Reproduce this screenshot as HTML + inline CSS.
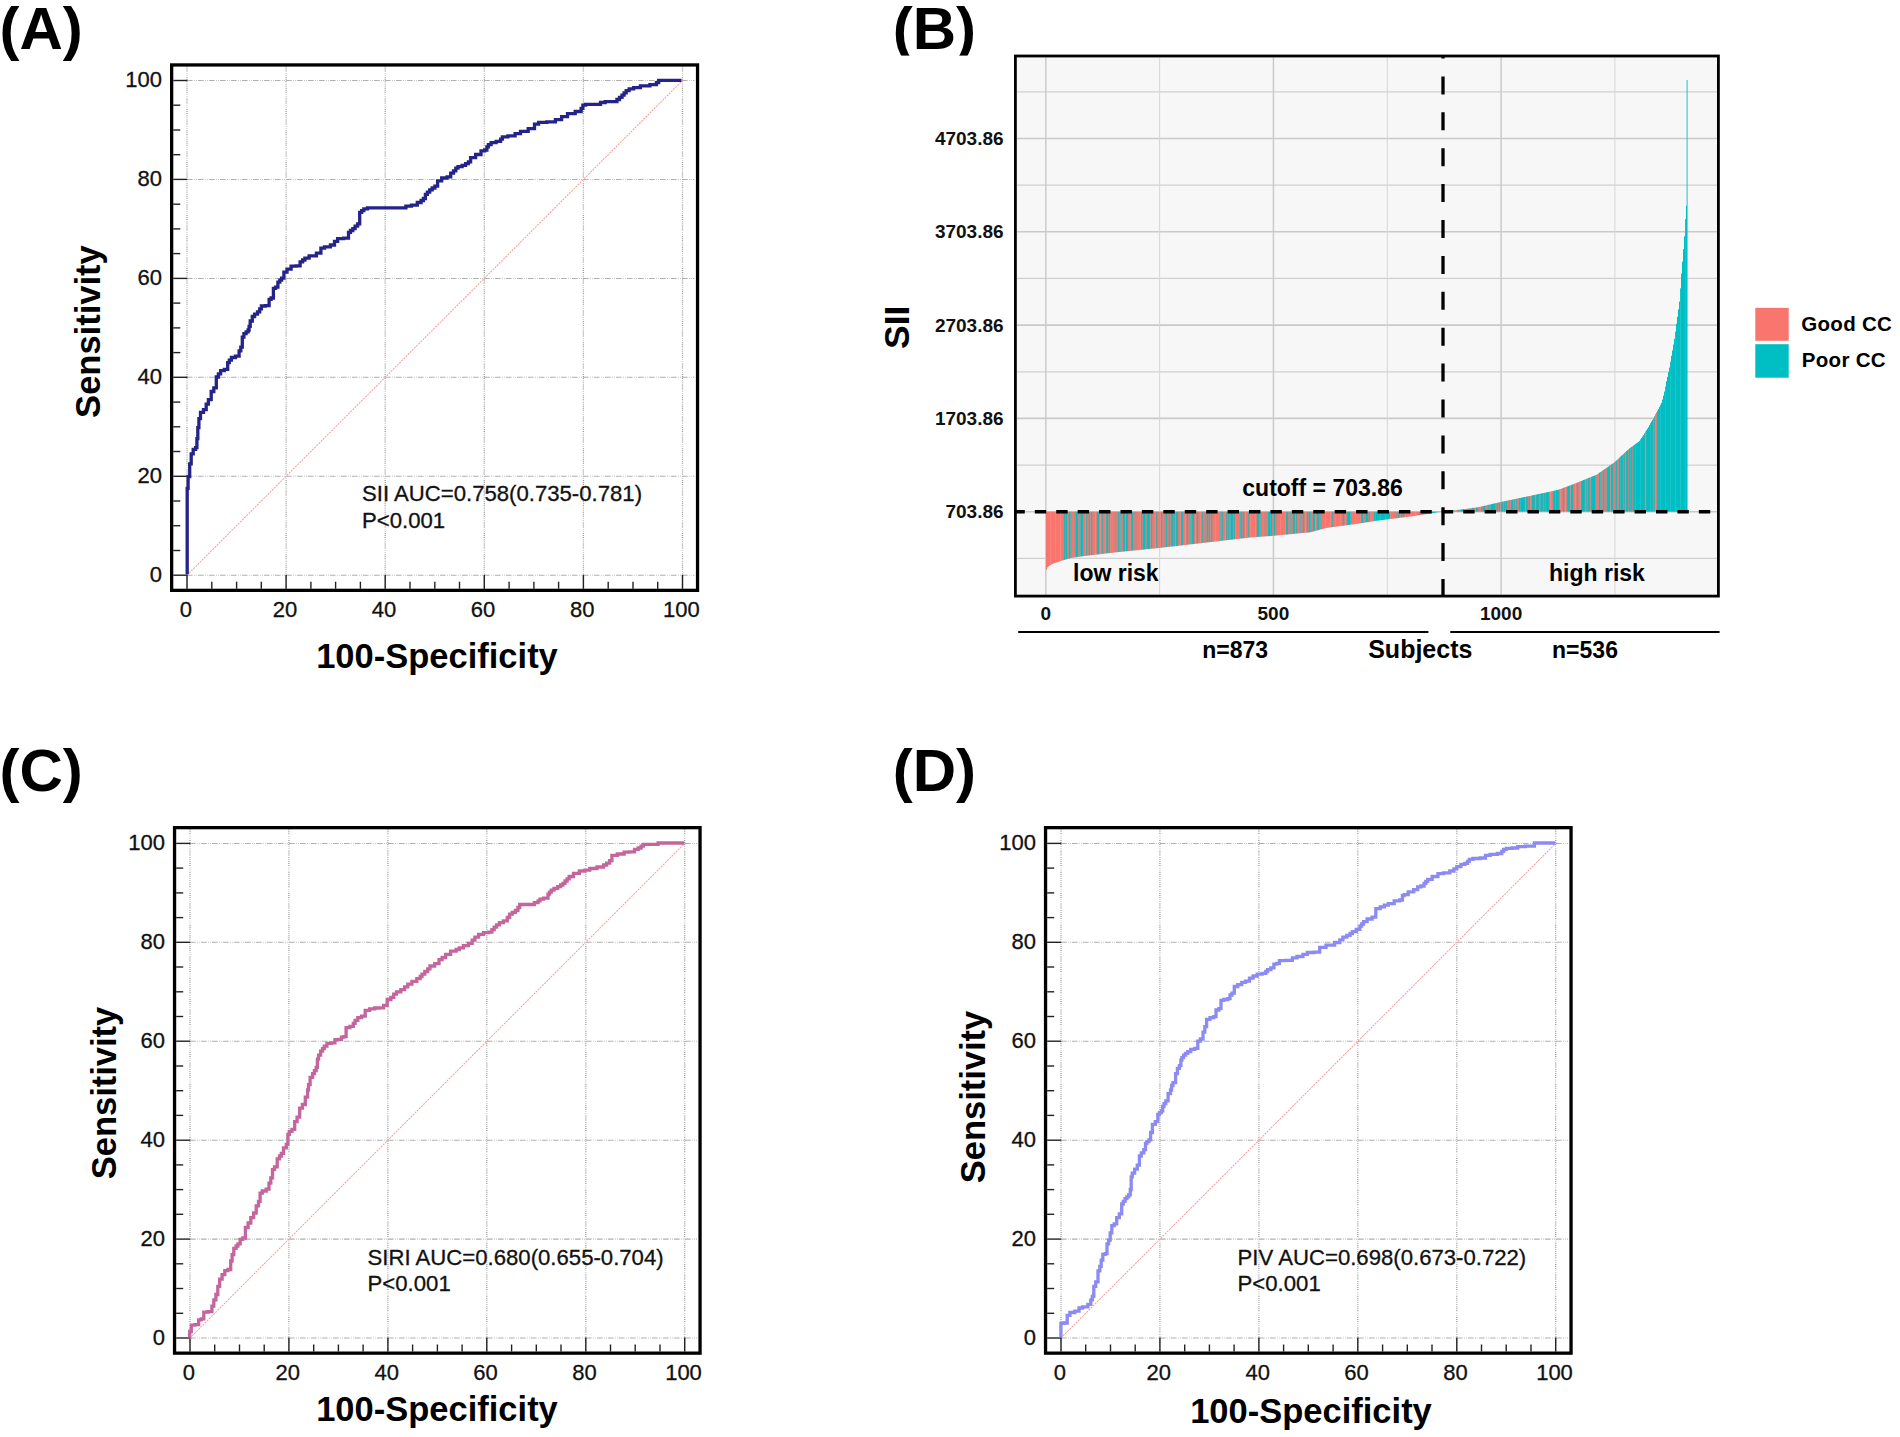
<!DOCTYPE html>
<html lang="en"><head><meta charset="utf-8"><title>ROC curves and SII distribution</title>
<style>
html,body{margin:0;padding:0;background:#fff;}
svg{display:block;font-family:'Liberation Sans', sans-serif;}
.pl{font-size:60px;font-weight:bold;fill:#000;}
.ax{font-size:34.5px;font-weight:bold;fill:#000;}
.tl{font-size:22px;fill:#111;stroke:#111;stroke-width:0.3;}
.an{font-size:22.15px;fill:#111;stroke:#111;stroke-width:0.3;}
.bt{font-size:19px;font-weight:bold;fill:#111;}
.bl{font-size:23px;font-weight:bold;fill:#000;}
.bs{font-size:25px;font-weight:bold;fill:#000;}
.lg{font-size:20.5px;font-weight:bold;fill:#000;letter-spacing:0.3px;}
.gv{stroke:#999;stroke-width:1.3;stroke-dasharray:1 1 1 1 1 1.6 .6 1.4 .6 1.4;}
.gh{stroke:#b0b0b0;stroke-width:1.05;stroke-dasharray:5.6 1.5 .7 1.3 .7 1.2;}
.dg{stroke:#f5a3a3;stroke-width:1.1;stroke-dasharray:2 1;}
.tk{stroke:#222;stroke-width:1.4;}
</style></head><body>
<svg width="1900" height="1437" viewBox="0 0 1900 1437">
<rect width="1900" height="1437" fill="#fff"/>
<text x="-0.5" y="49.3" class="pl">(A)</text>
<text x="892.8" y="49.3" class="pl">(B)</text>
<text x="-0.5" y="790.9" class="pl">(C)</text>
<text x="892.8" y="790.9" class="pl">(D)</text>

<g><line x1="187.0" y1="66.6" x2="187.0" y2="588.7" class="gv"/>
<line x1="187.0" y1="575.2" x2="694.4" y2="575.2" class="gh"/>
<line x1="286.1" y1="66.6" x2="286.1" y2="588.7" class="gv"/>
<line x1="187.0" y1="476.3" x2="694.4" y2="476.3" class="gh"/>
<line x1="385.2" y1="66.6" x2="385.2" y2="588.7" class="gv"/>
<line x1="187.0" y1="377.3" x2="694.4" y2="377.3" class="gh"/>
<line x1="484.3" y1="66.6" x2="484.3" y2="588.7" class="gv"/>
<line x1="187.0" y1="278.4" x2="694.4" y2="278.4" class="gh"/>
<line x1="583.4" y1="66.6" x2="583.4" y2="588.7" class="gv"/>
<line x1="187.0" y1="179.4" x2="694.4" y2="179.4" class="gh"/>
<line x1="682.5" y1="66.6" x2="682.5" y2="588.7" class="gv"/>
<line x1="187.0" y1="80.5" x2="694.4" y2="80.5" class="gh"/>
<line x1="187.0" y1="575.2" x2="682.5" y2="80.5" class="dg"/>
<line x1="173.3" y1="575.2" x2="187.3" y2="575.2" class="tk"/>
<line x1="187.0" y1="588.7" x2="187.0" y2="574.7" class="tk"/>
<line x1="173.3" y1="550.5" x2="180.3" y2="550.5" class="tk"/>
<line x1="211.8" y1="588.7" x2="211.8" y2="581.7" class="tk"/>
<line x1="173.3" y1="525.7" x2="180.3" y2="525.7" class="tk"/>
<line x1="236.6" y1="588.7" x2="236.6" y2="581.7" class="tk"/>
<line x1="173.3" y1="501.0" x2="180.3" y2="501.0" class="tk"/>
<line x1="261.3" y1="588.7" x2="261.3" y2="581.7" class="tk"/>
<line x1="173.3" y1="476.3" x2="187.3" y2="476.3" class="tk"/>
<line x1="286.1" y1="588.7" x2="286.1" y2="574.7" class="tk"/>
<line x1="173.3" y1="451.5" x2="180.3" y2="451.5" class="tk"/>
<line x1="310.9" y1="588.7" x2="310.9" y2="581.7" class="tk"/>
<line x1="173.3" y1="426.8" x2="180.3" y2="426.8" class="tk"/>
<line x1="335.6" y1="588.7" x2="335.6" y2="581.7" class="tk"/>
<line x1="173.3" y1="402.1" x2="180.3" y2="402.1" class="tk"/>
<line x1="360.4" y1="588.7" x2="360.4" y2="581.7" class="tk"/>
<line x1="173.3" y1="377.3" x2="187.3" y2="377.3" class="tk"/>
<line x1="385.2" y1="588.7" x2="385.2" y2="574.7" class="tk"/>
<line x1="173.3" y1="352.6" x2="180.3" y2="352.6" class="tk"/>
<line x1="410.0" y1="588.7" x2="410.0" y2="581.7" class="tk"/>
<line x1="173.3" y1="327.9" x2="180.3" y2="327.9" class="tk"/>
<line x1="434.8" y1="588.7" x2="434.8" y2="581.7" class="tk"/>
<line x1="173.3" y1="303.1" x2="180.3" y2="303.1" class="tk"/>
<line x1="459.5" y1="588.7" x2="459.5" y2="581.7" class="tk"/>
<line x1="173.3" y1="278.4" x2="187.3" y2="278.4" class="tk"/>
<line x1="484.3" y1="588.7" x2="484.3" y2="574.7" class="tk"/>
<line x1="173.3" y1="253.6" x2="180.3" y2="253.6" class="tk"/>
<line x1="509.1" y1="588.7" x2="509.1" y2="581.7" class="tk"/>
<line x1="173.3" y1="228.9" x2="180.3" y2="228.9" class="tk"/>
<line x1="533.9" y1="588.7" x2="533.9" y2="581.7" class="tk"/>
<line x1="173.3" y1="204.2" x2="180.3" y2="204.2" class="tk"/>
<line x1="558.6" y1="588.7" x2="558.6" y2="581.7" class="tk"/>
<line x1="173.3" y1="179.4" x2="187.3" y2="179.4" class="tk"/>
<line x1="583.4" y1="588.7" x2="583.4" y2="574.7" class="tk"/>
<line x1="173.3" y1="154.7" x2="180.3" y2="154.7" class="tk"/>
<line x1="608.2" y1="588.7" x2="608.2" y2="581.7" class="tk"/>
<line x1="173.3" y1="130.0" x2="180.3" y2="130.0" class="tk"/>
<line x1="633.0" y1="588.7" x2="633.0" y2="581.7" class="tk"/>
<line x1="173.3" y1="105.2" x2="180.3" y2="105.2" class="tk"/>
<line x1="657.7" y1="588.7" x2="657.7" y2="581.7" class="tk"/>
<line x1="173.3" y1="80.5" x2="187.3" y2="80.5" class="tk"/>
<line x1="682.5" y1="588.7" x2="682.5" y2="574.7" class="tk"/>
<polyline points="187.2,574.3 187.2,574.3 187.2,488.3 187.2,488.3 188.1,488.3 188.1,476.6 189.0,476.6 189.7,476.6 189.7,463.9 190.3,463.9 191.2,463.9 191.2,453.9 192.1,453.9 193.2,453.9 193.2,449.4 194.4,449.4 195.6,449.4 195.6,447.6 196.8,447.6 196.9,447.6 196.9,438.6 197.1,438.6 197.8,438.6 197.8,427.7 198.6,427.7 198.9,427.7 198.9,418.7 199.3,418.7 200.5,418.7 200.5,412.3 201.7,412.3 203.5,412.3 203.5,409.6 205.3,409.6 206.2,409.6 206.2,404.2 207.1,404.2 208.4,404.2 208.4,399.7 209.8,399.7 211.2,399.7 211.2,391.5 212.5,391.5 213.8,391.5 213.8,387.9 215.2,387.9 216.3,387.9 216.3,377.0 217.4,377.0 218.4,377.0 218.4,373.9 220.6,373.9 220.6,370.7 221.6,370.7 224.3,370.7 224.3,369.4 227.0,369.4 227.7,369.4 227.7,362.6 228.3,362.6 229.3,362.6 229.3,360.1 231.4,360.1 231.4,357.5 232.4,357.5 235.4,357.5 235.4,356.2 238.4,356.2 239.1,356.2 239.1,350.8 239.7,350.8 240.8,350.8 240.8,347.2 242.0,347.2 242.3,347.2 242.3,337.2 242.7,337.2 243.9,337.2 243.9,333.6 245.1,333.6 246.1,333.6 246.1,331.8 248.1,331.8 248.1,330.0 249.1,330.0 249.1,330.0 249.1,326.4 249.1,326.4 250.2,326.4 250.2,321.0 251.4,321.0 252.3,321.0 252.3,316.5 253.2,316.5 254.6,316.5 254.6,314.2 257.5,314.2 257.5,311.9 258.9,311.9 259.7,311.9 259.7,308.9 261.4,308.9 261.4,306.0 262.2,306.0 265.3,306.0 265.3,305.6 268.4,305.6 269.1,305.6 269.1,299.3 269.8,299.3 271.1,299.3 271.1,298.0 272.5,298.0 273.4,298.0 273.4,288.4 274.3,288.4 275.6,288.4 275.6,287.1 277.0,287.1 277.9,287.1 277.9,282.1 278.9,282.1 279.8,282.1 279.8,280.1 281.6,280.1 281.6,278.1 282.5,278.1 283.9,278.1 283.9,272.1 285.2,272.1 287.0,272.1 287.0,269.1 288.8,269.1 291.1,269.1 291.1,266.2 293.3,266.2 296.1,266.2 296.1,265.8 298.8,265.8 300.1,265.8 300.1,261.8 301.5,261.8 302.6,261.8 302.6,260.0 304.9,260.0 304.9,258.2 306.0,258.2 309.1,258.2 309.1,255.8 312.3,255.8 316.4,255.8 316.4,253.1 320.5,253.1 320.9,253.1 320.9,248.1 321.4,248.1 324.5,248.1 324.5,246.8 327.7,246.8 330.4,246.8 330.4,245.0 333.1,245.0 334.5,245.0 334.5,241.4 335.8,241.4 337.6,241.4 337.6,238.7 339.5,238.7 343.6,238.7 343.6,238.1 347.6,238.1 348.5,238.1 348.5,232.3 349.4,232.3 350.5,232.3 350.5,230.5 352.8,230.5 352.8,228.7 353.9,228.7 355.1,228.7 355.1,226.2 357.6,226.2 357.6,223.8 358.8,223.8 359.7,223.8 359.7,212.4 360.6,212.4 361.7,212.4 361.7,210.6 363.8,210.6 363.8,208.8 364.8,208.8 367.5,208.8 367.5,207.9 370.2,207.9 386.9,207.9 386.9,207.9 403.7,207.9 405.9,207.9 405.9,206.1 408.2,206.1 411.4,206.1 411.4,205.2 414.6,205.2 417.3,205.2 417.3,202.5 420.0,202.5 421.1,202.5 421.1,200.5 423.4,200.5 423.4,198.5 424.5,198.5 425.4,198.5 425.4,194.3 426.3,194.3 427.4,194.3 427.4,192.1 429.7,192.1 429.7,189.8 430.8,189.8 432.2,189.8 432.2,188.0 434.9,188.0 434.9,186.2 436.3,186.2 437.6,186.2 437.6,180.8 439.0,180.8 441.7,180.8 441.7,178.0 444.4,178.0 447.1,178.0 447.1,176.8 449.8,176.8 450.7,176.8 450.7,173.2 451.6,173.2 453.5,173.2 453.5,170.8 455.3,170.8 455.8,170.8 455.8,168.1 456.2,168.1 458.0,168.1 458.0,166.6 459.8,166.6 462.1,166.6 462.1,165.4 464.3,165.4 465.6,165.4 465.6,163.6 468.4,163.6 468.4,161.8 469.7,161.8 470.6,161.8 470.6,157.6 471.5,157.6 475.6,157.6 475.6,154.5 479.7,154.5 481.0,154.5 481.0,150.9 482.4,150.9 484.6,150.9 484.6,150.0 486.9,150.0 486.9,150.0 486.9,146.8 487.0,146.8 488.4,146.8 488.4,144.7 491.1,144.7 491.1,142.6 492.5,142.6 496.1,142.6 496.1,141.4 499.7,141.4 500.6,141.4 500.6,139.1 502.4,139.1 502.4,136.8 503.3,136.8 507.9,136.8 507.9,135.9 512.4,135.9 515.1,135.9 515.1,133.6 517.8,133.6 520.5,133.6 520.5,131.4 523.2,131.4 528.2,131.4 528.2,128.7 533.2,128.7 534.5,128.7 534.5,124.2 535.9,124.2 538.6,124.2 538.6,122.4 541.3,122.4 546.8,122.4 546.8,121.8 552.2,121.8 555.4,121.8 555.4,119.7 558.5,119.7 561.6,119.7 561.6,116.6 564.8,116.6 567.5,116.6 567.5,113.7 570.3,113.7 575.2,113.7 575.2,111.5 580.2,111.5 581.1,111.5 581.1,108.3 582.9,108.3 582.9,105.2 583.8,105.2 585.6,105.2 585.6,104.3 587.5,104.3 592.9,104.3 592.9,104.3 598.3,104.3 600.5,104.3 600.5,102.5 602.8,102.5 605.1,102.5 605.1,101.6 607.4,101.6 611.5,101.6 611.5,101.6 615.5,101.6 616.9,101.6 616.9,99.5 619.5,99.5 619.5,97.4 620.9,97.4 622.0,97.4 622.0,95.2 624.1,95.2 624.1,92.9 626.2,92.9 626.2,90.7 627.3,90.7 629.1,90.7 629.1,88.9 630.9,88.9 633.6,88.9 633.6,87.6 636.3,87.6 640.4,87.6 640.4,85.8 644.5,85.8 649.9,85.8 649.9,84.7 655.3,84.7 656.4,84.7 656.4,82.6 658.7,82.6 658.7,80.4 659.8,80.4 670.6,80.4 670.6,80.4 681.5,80.4" fill="none" stroke="#23238a" stroke-width="3.3" stroke-linejoin="miter" stroke-linecap="butt"/>
<rect x="171.65" y="64.95" width="525.90" height="525.40" fill="none" stroke="#000" stroke-width="3.3"/>
<text x="162.0" y="581.8" class="tl" text-anchor="end">0</text>
<text x="185.8" y="617.3" class="tl" text-anchor="middle">0</text>
<text x="162.0" y="482.9" class="tl" text-anchor="end">20</text>
<text x="284.9" y="617.3" class="tl" text-anchor="middle">20</text>
<text x="162.0" y="383.9" class="tl" text-anchor="end">40</text>
<text x="384.0" y="617.3" class="tl" text-anchor="middle">40</text>
<text x="162.0" y="285.0" class="tl" text-anchor="end">60</text>
<text x="483.1" y="617.3" class="tl" text-anchor="middle">60</text>
<text x="162.0" y="186.0" class="tl" text-anchor="end">80</text>
<text x="582.2" y="617.3" class="tl" text-anchor="middle">80</text>
<text x="162.0" y="87.1" class="tl" text-anchor="end">100</text>
<text x="681.3" y="617.3" class="tl" text-anchor="middle">100</text>
<text x="362.0" y="501.0" class="an">SII AUC=0.758(0.735-0.781)</text>
<text x="362.0" y="527.8" class="an">P&lt;0.001</text>
<text x="437.0" y="667.8" class="ax" text-anchor="middle">100-Specificity</text>
<text transform="translate(100.4,331.6) rotate(-90)" class="ax" text-anchor="middle">Sensitivity</text></g>
<g><rect x="880" y="55.6" width="130" height="12" fill="#fff"/>
<rect x="1015.0" y="55.6" width="703.8" height="540.9" fill="#f7f7f7"/>
<line x1="1016.8" y1="558.4" x2="1717.0" y2="558.4" stroke="#d0d0d0" stroke-width="1.3"/>
<line x1="1016.8" y1="511.7" x2="1717.0" y2="511.7" stroke="#cacaca" stroke-width="1.6"/>
<line x1="1016.8" y1="465.1" x2="1717.0" y2="465.1" stroke="#d0d0d0" stroke-width="1.3"/>
<line x1="1016.8" y1="418.4" x2="1717.0" y2="418.4" stroke="#cacaca" stroke-width="1.6"/>
<line x1="1016.8" y1="371.8" x2="1717.0" y2="371.8" stroke="#d0d0d0" stroke-width="1.3"/>
<line x1="1016.8" y1="325.1" x2="1717.0" y2="325.1" stroke="#cacaca" stroke-width="1.6"/>
<line x1="1016.8" y1="278.4" x2="1717.0" y2="278.4" stroke="#d0d0d0" stroke-width="1.3"/>
<line x1="1016.8" y1="231.8" x2="1717.0" y2="231.8" stroke="#cacaca" stroke-width="1.6"/>
<line x1="1016.8" y1="185.1" x2="1717.0" y2="185.1" stroke="#d0d0d0" stroke-width="1.3"/>
<line x1="1016.8" y1="138.5" x2="1717.0" y2="138.5" stroke="#cacaca" stroke-width="1.6"/>
<line x1="1016.8" y1="91.9" x2="1717.0" y2="91.9" stroke="#d0d0d0" stroke-width="1.3"/>
<line x1="1045.8" y1="57.4" x2="1045.8" y2="594.7" stroke="#cbcbcb" stroke-width="1.5"/>
<line x1="1159.6" y1="57.4" x2="1159.6" y2="594.7" stroke="#d6d6d6" stroke-width="1.0"/>
<line x1="1273.4" y1="57.4" x2="1273.4" y2="594.7" stroke="#cbcbcb" stroke-width="1.5"/>
<line x1="1387.3" y1="57.4" x2="1387.3" y2="594.7" stroke="#d6d6d6" stroke-width="1.0"/>
<line x1="1501.1" y1="57.4" x2="1501.1" y2="594.7" stroke="#cbcbcb" stroke-width="1.5"/>
<line x1="1614.9" y1="57.4" x2="1614.9" y2="594.7" stroke="#d6d6d6" stroke-width="1.0"/>
<g shape-rendering="auto"><rect x="1046" y="511.7" width="1" height="57.9" fill="#f8766d"/><rect x="1047" y="511.7" width="1" height="55.8" fill="#f8766d"/><rect x="1048" y="511.7" width="1" height="54.8" fill="#f8766d"/><rect x="1049" y="511.7" width="1" height="54.0" fill="#f8766d"/><rect x="1050" y="511.7" width="1" height="53.4" fill="#f8837b"/><rect x="1051" y="511.7" width="1" height="52.8" fill="#f8766d"/><rect x="1052" y="511.7" width="1" height="52.2" fill="#f8766d"/><rect x="1053" y="511.7" width="1" height="51.8" fill="#f8766d"/><rect x="1054" y="511.7" width="1" height="51.4" fill="#f8766d"/><rect x="1055" y="511.7" width="1" height="51.1" fill="#f8837b"/><rect x="1056" y="511.7" width="1" height="50.8" fill="#f8766d"/><rect x="1057" y="511.7" width="1" height="50.5" fill="#f8766d"/><rect x="1058" y="511.7" width="1" height="50.2" fill="#f8766d"/><rect x="1059" y="511.7" width="1" height="49.8" fill="#f8766d"/><rect x="1060" y="511.7" width="1" height="49.4" fill="#f8837b"/><rect x="1061" y="511.7" width="1" height="49.1" fill="#f8766d"/><rect x="1062" y="511.7" width="1" height="48.8" fill="#f8766d"/><rect x="1063" y="511.7" width="1" height="48.5" fill="#ce827c"/><rect x="1064" y="511.7" width="1" height="48.2" fill="#2ab3b5"/><rect x="1065" y="511.7" width="1" height="47.9" fill="#19c5c9"/><rect x="1066" y="511.7" width="1" height="47.6" fill="#2ab3b5"/><rect x="1067" y="511.7" width="1" height="47.3" fill="#ce827c"/><rect x="1068" y="511.7" width="1" height="47.0" fill="#ce827c"/><rect x="1069" y="511.7" width="1" height="46.7" fill="#2ab3b5"/><rect x="1070" y="511.7" width="1" height="46.4" fill="#3fbabc"/><rect x="1071" y="511.7" width="1" height="46.2" fill="#ce827c"/><rect x="1072" y="511.7" width="1" height="46.1" fill="#f8766d"/><rect x="1073" y="511.7" width="1" height="45.9" fill="#f8766d"/><rect x="1074" y="511.7" width="1" height="45.8" fill="#ce827c"/><rect x="1075" y="511.7" width="1" height="45.6" fill="#3fbabc"/><rect x="1076" y="511.7" width="1" height="45.5" fill="#00bfc4"/><rect x="1077" y="511.7" width="1" height="45.3" fill="#2ab3b5"/><rect x="1078" y="511.7" width="1" height="45.2" fill="#ce827c"/><rect x="1079" y="511.7" width="1" height="45.0" fill="#ce827c"/><rect x="1080" y="511.7" width="1" height="44.9" fill="#3fbabc"/><rect x="1081" y="511.7" width="1" height="44.7" fill="#00bfc4"/><rect x="1082" y="511.7" width="1" height="44.6" fill="#2ab3b5"/><rect x="1083" y="511.7" width="1" height="44.5" fill="#ce827c"/><rect x="1084" y="511.7" width="1" height="44.3" fill="#f8766d"/><rect x="1085" y="511.7" width="1" height="44.2" fill="#d28e88"/><rect x="1086" y="511.7" width="1" height="44.1" fill="#54a6a6"/><rect x="1087" y="511.7" width="1" height="44.0" fill="#ce827c"/><rect x="1088" y="511.7" width="1" height="43.9" fill="#ce827c"/><rect x="1089" y="511.7" width="1" height="43.7" fill="#54a6a6"/><rect x="1090" y="511.7" width="1" height="43.6" fill="#ac9996"/><rect x="1091" y="511.7" width="1" height="43.5" fill="#54a6a6"/><rect x="1092" y="511.7" width="1" height="43.4" fill="#ce827c"/><rect x="1093" y="511.7" width="1" height="43.3" fill="#f8766d"/><rect x="1094" y="511.7" width="1" height="43.1" fill="#f8766d"/><rect x="1095" y="511.7" width="1" height="43.0" fill="#f8837b"/><rect x="1096" y="511.7" width="1" height="42.9" fill="#ce827c"/><rect x="1097" y="511.7" width="1" height="42.8" fill="#2ab3b5"/><rect x="1098" y="511.7" width="1" height="42.7" fill="#2ab3b5"/><rect x="1099" y="511.7" width="1" height="42.6" fill="#ce827c"/><rect x="1100" y="511.7" width="1" height="42.4" fill="#f8837b"/><rect x="1101" y="511.7" width="1" height="42.3" fill="#ce827c"/><rect x="1102" y="511.7" width="1" height="42.2" fill="#54a6a6"/><rect x="1103" y="511.7" width="1" height="42.1" fill="#ce827c"/><rect x="1104" y="511.7" width="1" height="42.0" fill="#f8766d"/><rect x="1105" y="511.7" width="1" height="41.8" fill="#d28e88"/><rect x="1106" y="511.7" width="1" height="41.7" fill="#2ab3b5"/><rect x="1107" y="511.7" width="1" height="41.6" fill="#2ab3b5"/><rect x="1108" y="511.7" width="1" height="41.5" fill="#a48f8b"/><rect x="1109" y="511.7" width="1" height="41.4" fill="#54a6a6"/><rect x="1110" y="511.7" width="1" height="41.3" fill="#d28e88"/><rect x="1111" y="511.7" width="1" height="41.2" fill="#f8766d"/><rect x="1112" y="511.7" width="1" height="41.1" fill="#f8766d"/><rect x="1113" y="511.7" width="1" height="41.0" fill="#f8766d"/><rect x="1114" y="511.7" width="1" height="40.8" fill="#ce827c"/><rect x="1115" y="511.7" width="1" height="40.7" fill="#64aeae"/><rect x="1116" y="511.7" width="1" height="40.6" fill="#ce827c"/><rect x="1117" y="511.7" width="1" height="40.5" fill="#ce827c"/><rect x="1118" y="511.7" width="1" height="40.4" fill="#54a6a6"/><rect x="1119" y="511.7" width="1" height="40.3" fill="#a48f8b"/><rect x="1120" y="511.7" width="1" height="40.2" fill="#64aeae"/><rect x="1121" y="511.7" width="1" height="40.1" fill="#ce827c"/><rect x="1122" y="511.7" width="1" height="40.0" fill="#ce827c"/><rect x="1123" y="511.7" width="1" height="39.9" fill="#2ab3b5"/><rect x="1124" y="511.7" width="1" height="39.8" fill="#2ab3b5"/><rect x="1125" y="511.7" width="1" height="39.7" fill="#ac9996"/><rect x="1126" y="511.7" width="1" height="39.6" fill="#2ab3b5"/><rect x="1127" y="511.7" width="1" height="39.5" fill="#2ab3b5"/><rect x="1128" y="511.7" width="1" height="39.4" fill="#ce827c"/><rect x="1129" y="511.7" width="1" height="39.3" fill="#f8766d"/><rect x="1130" y="511.7" width="1" height="39.2" fill="#d28e88"/><rect x="1131" y="511.7" width="1" height="39.1" fill="#2ab3b5"/><rect x="1132" y="511.7" width="1" height="39.0" fill="#2ab3b5"/><rect x="1133" y="511.7" width="1" height="38.9" fill="#ce827c"/><rect x="1134" y="511.7" width="1" height="38.8" fill="#ce827c"/><rect x="1135" y="511.7" width="1" height="38.7" fill="#64aeae"/><rect x="1136" y="511.7" width="1" height="38.6" fill="#ce827c"/><rect x="1137" y="511.7" width="1" height="38.5" fill="#f8766d"/><rect x="1138" y="511.7" width="1" height="38.4" fill="#f8766d"/><rect x="1139" y="511.7" width="1" height="38.3" fill="#f8766d"/><rect x="1140" y="511.7" width="1" height="38.2" fill="#d28e88"/><rect x="1141" y="511.7" width="1" height="38.0" fill="#54a6a6"/><rect x="1142" y="511.7" width="1" height="38.0" fill="#a48f8b"/><rect x="1143" y="511.7" width="1" height="37.9" fill="#2ab3b5"/><rect x="1144" y="511.7" width="1" height="37.8" fill="#00bfc4"/><rect x="1145" y="511.7" width="1" height="37.7" fill="#3fbabc"/><rect x="1146" y="511.7" width="1" height="37.5" fill="#a48f8b"/><rect x="1147" y="511.7" width="1" height="37.5" fill="#2ab3b5"/><rect x="1148" y="511.7" width="1" height="37.4" fill="#00bfc4"/><rect x="1149" y="511.7" width="1" height="37.3" fill="#2ab3b5"/><rect x="1150" y="511.7" width="1" height="37.2" fill="#ac9996"/><rect x="1151" y="511.7" width="1" height="37.0" fill="#54a6a6"/><rect x="1152" y="511.7" width="1" height="37.0" fill="#ce827c"/><rect x="1153" y="511.7" width="1" height="36.9" fill="#f8766d"/><rect x="1154" y="511.7" width="1" height="36.8" fill="#f8766d"/><rect x="1155" y="511.7" width="1" height="36.7" fill="#d28e88"/><rect x="1156" y="511.7" width="1" height="36.5" fill="#54a6a6"/><rect x="1157" y="511.7" width="1" height="36.5" fill="#ce827c"/><rect x="1158" y="511.7" width="1" height="36.4" fill="#f8766d"/><rect x="1159" y="511.7" width="1" height="36.3" fill="#f8766d"/><rect x="1160" y="511.7" width="1" height="36.1" fill="#d28e88"/><rect x="1161" y="511.7" width="1" height="36.0" fill="#54a6a6"/><rect x="1162" y="511.7" width="1" height="35.9" fill="#ce827c"/><rect x="1163" y="511.7" width="1" height="35.8" fill="#f8766d"/><rect x="1164" y="511.7" width="1" height="35.7" fill="#ce827c"/><rect x="1165" y="511.7" width="1" height="35.6" fill="#3fbabc"/><rect x="1166" y="511.7" width="1" height="35.4" fill="#2ab3b5"/><rect x="1167" y="511.7" width="1" height="35.3" fill="#ce827c"/><rect x="1168" y="511.7" width="1" height="35.2" fill="#ce827c"/><rect x="1169" y="511.7" width="1" height="35.1" fill="#54a6a6"/><rect x="1170" y="511.7" width="1" height="35.0" fill="#ac9996"/><rect x="1171" y="511.7" width="1" height="34.9" fill="#2ab3b5"/><rect x="1172" y="511.7" width="1" height="34.8" fill="#2ab3b5"/><rect x="1173" y="511.7" width="1" height="34.7" fill="#a48f8b"/><rect x="1174" y="511.7" width="1" height="34.6" fill="#54a6a6"/><rect x="1175" y="511.7" width="1" height="34.4" fill="#ac9996"/><rect x="1176" y="511.7" width="1" height="34.3" fill="#2ab3b5"/><rect x="1177" y="511.7" width="1" height="34.2" fill="#2ab3b5"/><rect x="1178" y="511.7" width="1" height="34.1" fill="#ce827c"/><rect x="1179" y="511.7" width="1" height="34.0" fill="#f8766d"/><rect x="1180" y="511.7" width="1" height="33.9" fill="#d28e88"/><rect x="1181" y="511.7" width="1" height="33.7" fill="#2ab3b5"/><rect x="1182" y="511.7" width="1" height="33.6" fill="#2ab3b5"/><rect x="1183" y="511.7" width="1" height="33.5" fill="#ce827c"/><rect x="1184" y="511.7" width="1" height="33.4" fill="#f8766d"/><rect x="1185" y="511.7" width="1" height="33.3" fill="#f8837b"/><rect x="1186" y="511.7" width="1" height="33.2" fill="#ce827c"/><rect x="1187" y="511.7" width="1" height="33.0" fill="#54a6a6"/><rect x="1188" y="511.7" width="1" height="32.9" fill="#ce827c"/><rect x="1189" y="511.7" width="1" height="32.8" fill="#ce827c"/><rect x="1190" y="511.7" width="1" height="32.7" fill="#64aeae"/><rect x="1191" y="511.7" width="1" height="32.6" fill="#a48f8b"/><rect x="1192" y="511.7" width="1" height="32.5" fill="#2ab3b5"/><rect x="1193" y="511.7" width="1" height="32.4" fill="#2ab3b5"/><rect x="1194" y="511.7" width="1" height="32.3" fill="#ce827c"/><rect x="1195" y="511.7" width="1" height="32.1" fill="#f8837b"/><rect x="1196" y="511.7" width="1" height="32.0" fill="#ce827c"/><rect x="1197" y="511.7" width="1" height="31.9" fill="#54a6a6"/><rect x="1198" y="511.7" width="1" height="31.8" fill="#ce827c"/><rect x="1199" y="511.7" width="1" height="31.7" fill="#f8766d"/><rect x="1200" y="511.7" width="1" height="31.6" fill="#f8837b"/><rect x="1201" y="511.7" width="1" height="31.4" fill="#ce827c"/><rect x="1202" y="511.7" width="1" height="31.3" fill="#54a6a6"/><rect x="1203" y="511.7" width="1" height="31.2" fill="#ce827c"/><rect x="1204" y="511.7" width="1" height="31.1" fill="#ce827c"/><rect x="1205" y="511.7" width="1" height="31.0" fill="#64aeae"/><rect x="1206" y="511.7" width="1" height="30.9" fill="#a48f8b"/><rect x="1207" y="511.7" width="1" height="30.7" fill="#54a6a6"/><rect x="1208" y="511.7" width="1" height="30.6" fill="#a48f8b"/><rect x="1209" y="511.7" width="1" height="30.5" fill="#54a6a6"/><rect x="1210" y="511.7" width="1" height="30.4" fill="#ac9996"/><rect x="1211" y="511.7" width="1" height="30.3" fill="#54a6a6"/><rect x="1212" y="511.7" width="1" height="30.2" fill="#ce827c"/><rect x="1213" y="511.7" width="1" height="30.1" fill="#f8766d"/><rect x="1214" y="511.7" width="1" height="29.9" fill="#f8766d"/><rect x="1215" y="511.7" width="1" height="29.8" fill="#f8837b"/><rect x="1216" y="511.7" width="1" height="29.7" fill="#f8766d"/><rect x="1217" y="511.7" width="1" height="29.6" fill="#f8766d"/><rect x="1218" y="511.7" width="1" height="29.5" fill="#f8766d"/><rect x="1219" y="511.7" width="1" height="29.4" fill="#ce827c"/><rect x="1220" y="511.7" width="1" height="29.3" fill="#64aeae"/><rect x="1221" y="511.7" width="1" height="29.2" fill="#a48f8b"/><rect x="1222" y="511.7" width="1" height="29.0" fill="#54a6a6"/><rect x="1223" y="511.7" width="1" height="28.9" fill="#ce827c"/><rect x="1224" y="511.7" width="1" height="28.8" fill="#f8766d"/><rect x="1225" y="511.7" width="1" height="28.7" fill="#d28e88"/><rect x="1226" y="511.7" width="1" height="28.6" fill="#54a6a6"/><rect x="1227" y="511.7" width="1" height="28.4" fill="#a48f8b"/><rect x="1228" y="511.7" width="1" height="28.3" fill="#54a6a6"/><rect x="1229" y="511.7" width="1" height="28.2" fill="#a48f8b"/><rect x="1230" y="511.7" width="1" height="28.1" fill="#3fbabc"/><rect x="1231" y="511.7" width="1" height="28.0" fill="#00bfc4"/><rect x="1232" y="511.7" width="1" height="27.9" fill="#2ab3b5"/><rect x="1233" y="511.7" width="1" height="27.7" fill="#a48f8b"/><rect x="1234" y="511.7" width="1" height="27.6" fill="#54a6a6"/><rect x="1235" y="511.7" width="1" height="27.5" fill="#d28e88"/><rect x="1236" y="511.7" width="1" height="27.4" fill="#f8766d"/><rect x="1237" y="511.7" width="1" height="27.3" fill="#f8766d"/><rect x="1238" y="511.7" width="1" height="27.2" fill="#f8766d"/><rect x="1239" y="511.7" width="1" height="27.0" fill="#ce827c"/><rect x="1240" y="511.7" width="1" height="26.9" fill="#3fbabc"/><rect x="1241" y="511.7" width="1" height="26.8" fill="#2ab3b5"/><rect x="1242" y="511.7" width="1" height="26.7" fill="#a48f8b"/><rect x="1243" y="511.7" width="1" height="26.6" fill="#54a6a6"/><rect x="1244" y="511.7" width="1" height="26.5" fill="#ce827c"/><rect x="1245" y="511.7" width="1" height="26.4" fill="#f8837b"/><rect x="1246" y="511.7" width="1" height="26.2" fill="#f8766d"/><rect x="1247" y="511.7" width="1" height="26.1" fill="#ce827c"/><rect x="1248" y="511.7" width="1" height="26.0" fill="#54a6a6"/><rect x="1249" y="511.7" width="1" height="25.9" fill="#ce827c"/><rect x="1250" y="511.7" width="1" height="25.8" fill="#f8837b"/><rect x="1251" y="511.7" width="1" height="25.7" fill="#f8766d"/><rect x="1252" y="511.7" width="1" height="25.6" fill="#f8766d"/><rect x="1253" y="511.7" width="1" height="25.6" fill="#f8766d"/><rect x="1254" y="511.7" width="1" height="25.5" fill="#f8766d"/><rect x="1255" y="511.7" width="1" height="25.4" fill="#f8837b"/><rect x="1256" y="511.7" width="1" height="25.3" fill="#ce827c"/><rect x="1257" y="511.7" width="1" height="25.3" fill="#2ab3b5"/><rect x="1258" y="511.7" width="1" height="25.2" fill="#2ab3b5"/><rect x="1259" y="511.7" width="1" height="25.1" fill="#a48f8b"/><rect x="1260" y="511.7" width="1" height="25.1" fill="#64aeae"/><rect x="1261" y="511.7" width="1" height="25.0" fill="#ce827c"/><rect x="1262" y="511.7" width="1" height="24.9" fill="#f8766d"/><rect x="1263" y="511.7" width="1" height="24.8" fill="#f8766d"/><rect x="1264" y="511.7" width="1" height="24.8" fill="#ce827c"/><rect x="1265" y="511.7" width="1" height="24.7" fill="#64aeae"/><rect x="1266" y="511.7" width="1" height="24.6" fill="#ce827c"/><rect x="1267" y="511.7" width="1" height="24.5" fill="#ce827c"/><rect x="1268" y="511.7" width="1" height="24.5" fill="#2ab3b5"/><rect x="1269" y="511.7" width="1" height="24.4" fill="#00bfc4"/><rect x="1270" y="511.7" width="1" height="24.3" fill="#19c5c9"/><rect x="1271" y="511.7" width="1" height="24.2" fill="#2ab3b5"/><rect x="1272" y="511.7" width="1" height="24.2" fill="#ce827c"/><rect x="1273" y="511.7" width="1" height="24.1" fill="#ce827c"/><rect x="1274" y="511.7" width="1" height="24.0" fill="#2ab3b5"/><rect x="1275" y="511.7" width="1" height="23.9" fill="#3fbabc"/><rect x="1276" y="511.7" width="1" height="23.8" fill="#ce827c"/><rect x="1277" y="511.7" width="1" height="23.7" fill="#f8766d"/><rect x="1278" y="511.7" width="1" height="23.6" fill="#f8766d"/><rect x="1279" y="511.7" width="1" height="23.5" fill="#f8766d"/><rect x="1280" y="511.7" width="1" height="23.4" fill="#f8837b"/><rect x="1281" y="511.7" width="1" height="23.3" fill="#f8766d"/><rect x="1282" y="511.7" width="1" height="23.3" fill="#f8766d"/><rect x="1283" y="511.7" width="1" height="23.1" fill="#f8766d"/><rect x="1284" y="511.7" width="1" height="23.0" fill="#f8766d"/><rect x="1285" y="511.7" width="1" height="23.0" fill="#d28e88"/><rect x="1286" y="511.7" width="1" height="22.9" fill="#2ab3b5"/><rect x="1287" y="511.7" width="1" height="22.8" fill="#2ab3b5"/><rect x="1288" y="511.7" width="1" height="22.7" fill="#ce827c"/><rect x="1289" y="511.7" width="1" height="22.6" fill="#ce827c"/><rect x="1290" y="511.7" width="1" height="22.5" fill="#64aeae"/><rect x="1291" y="511.7" width="1" height="22.4" fill="#ce827c"/><rect x="1292" y="511.7" width="1" height="22.3" fill="#ce827c"/><rect x="1293" y="511.7" width="1" height="22.2" fill="#2ab3b5"/><rect x="1294" y="511.7" width="1" height="22.1" fill="#2ab3b5"/><rect x="1295" y="511.7" width="1" height="22.0" fill="#ac9996"/><rect x="1296" y="511.7" width="1" height="21.9" fill="#54a6a6"/><rect x="1297" y="511.7" width="1" height="21.8" fill="#ce827c"/><rect x="1298" y="511.7" width="1" height="21.7" fill="#f8766d"/><rect x="1299" y="511.7" width="1" height="21.6" fill="#ce827c"/><rect x="1300" y="511.7" width="1" height="21.5" fill="#64aeae"/><rect x="1301" y="511.7" width="1" height="21.4" fill="#ce827c"/><rect x="1302" y="511.7" width="1" height="21.4" fill="#ce827c"/><rect x="1303" y="511.7" width="1" height="21.2" fill="#54a6a6"/><rect x="1304" y="511.7" width="1" height="21.1" fill="#ce827c"/><rect x="1305" y="511.7" width="1" height="21.1" fill="#f8837b"/><rect x="1306" y="511.7" width="1" height="21.0" fill="#ce827c"/><rect x="1307" y="511.7" width="1" height="20.9" fill="#54a6a6"/><rect x="1308" y="511.7" width="1" height="20.8" fill="#a48f8b"/><rect x="1309" y="511.7" width="1" height="20.7" fill="#2ab3b5"/><rect x="1310" y="511.7" width="1" height="20.5" fill="#3fbabc"/><rect x="1311" y="511.7" width="1" height="20.3" fill="#ce827c"/><rect x="1312" y="511.7" width="1" height="20.1" fill="#ce827c"/><rect x="1313" y="511.7" width="1" height="19.7" fill="#2ab3b5"/><rect x="1314" y="511.7" width="1" height="19.4" fill="#2ab3b5"/><rect x="1315" y="511.7" width="1" height="19.2" fill="#d28e88"/><rect x="1316" y="511.7" width="1" height="18.9" fill="#ce827c"/><rect x="1317" y="511.7" width="1" height="18.7" fill="#2ab3b5"/><rect x="1318" y="511.7" width="1" height="18.4" fill="#2ab3b5"/><rect x="1319" y="511.7" width="1" height="18.1" fill="#a48f8b"/><rect x="1320" y="511.7" width="1" height="17.8" fill="#64aeae"/><rect x="1321" y="511.7" width="1" height="17.6" fill="#ce827c"/><rect x="1322" y="511.7" width="1" height="17.4" fill="#f8766d"/><rect x="1323" y="511.7" width="1" height="17.1" fill="#f8766d"/><rect x="1324" y="511.7" width="1" height="16.8" fill="#f8766d"/><rect x="1325" y="511.7" width="1" height="16.5" fill="#f8837b"/><rect x="1326" y="511.7" width="1" height="16.3" fill="#f8766d"/><rect x="1327" y="511.7" width="1" height="16.1" fill="#f8766d"/><rect x="1328" y="511.7" width="1" height="16.0" fill="#f8766d"/><rect x="1329" y="511.7" width="1" height="15.8" fill="#f8766d"/><rect x="1330" y="511.7" width="1" height="15.7" fill="#f8837b"/><rect x="1331" y="511.7" width="1" height="15.6" fill="#ce827c"/><rect x="1332" y="511.7" width="1" height="15.4" fill="#54a6a6"/><rect x="1333" y="511.7" width="1" height="15.3" fill="#ce827c"/><rect x="1334" y="511.7" width="1" height="15.2" fill="#f8766d"/><rect x="1335" y="511.7" width="1" height="15.0" fill="#f8837b"/><rect x="1336" y="511.7" width="1" height="14.9" fill="#f8766d"/><rect x="1337" y="511.7" width="1" height="14.8" fill="#f8766d"/><rect x="1338" y="511.7" width="1" height="14.7" fill="#f8766d"/><rect x="1339" y="511.7" width="1" height="14.5" fill="#f8766d"/><rect x="1340" y="511.7" width="1" height="14.3" fill="#f8837b"/><rect x="1341" y="511.7" width="1" height="14.2" fill="#f8766d"/><rect x="1342" y="511.7" width="1" height="14.1" fill="#ce827c"/><rect x="1343" y="511.7" width="1" height="14.0" fill="#54a6a6"/><rect x="1344" y="511.7" width="1" height="13.8" fill="#ce827c"/><rect x="1345" y="511.7" width="1" height="13.7" fill="#f8837b"/><rect x="1346" y="511.7" width="1" height="13.6" fill="#ce827c"/><rect x="1347" y="511.7" width="1" height="13.4" fill="#2ab3b5"/><rect x="1348" y="511.7" width="1" height="13.3" fill="#00bfc4"/><rect x="1349" y="511.7" width="1" height="13.2" fill="#00bfc4"/><rect x="1350" y="511.7" width="1" height="13.0" fill="#3fbabc"/><rect x="1351" y="511.7" width="1" height="12.9" fill="#ce827c"/><rect x="1352" y="511.7" width="1" height="12.8" fill="#f8766d"/><rect x="1353" y="511.7" width="1" height="12.7" fill="#f8766d"/><rect x="1354" y="511.7" width="1" height="12.5" fill="#f8766d"/><rect x="1355" y="511.7" width="1" height="12.3" fill="#f8837b"/><rect x="1356" y="511.7" width="1" height="12.2" fill="#f8766d"/><rect x="1357" y="511.7" width="1" height="12.0" fill="#f8766d"/><rect x="1358" y="511.7" width="1" height="11.9" fill="#f8766d"/><rect x="1359" y="511.7" width="1" height="11.7" fill="#f8766d"/><rect x="1360" y="511.7" width="1" height="11.6" fill="#d28e88"/><rect x="1361" y="511.7" width="1" height="11.4" fill="#2ab3b5"/><rect x="1362" y="511.7" width="1" height="11.3" fill="#2ab3b5"/><rect x="1363" y="511.7" width="1" height="11.1" fill="#ce827c"/><rect x="1364" y="511.7" width="1" height="11.0" fill="#ce827c"/><rect x="1365" y="511.7" width="1" height="10.8" fill="#3fbabc"/><rect x="1366" y="511.7" width="1" height="10.6" fill="#00bfc4"/><rect x="1367" y="511.7" width="1" height="10.5" fill="#2ab3b5"/><rect x="1368" y="511.7" width="1" height="10.4" fill="#a48f8b"/><rect x="1369" y="511.7" width="1" height="10.2" fill="#54a6a6"/><rect x="1370" y="511.7" width="1" height="10.0" fill="#d28e88"/><rect x="1371" y="511.7" width="1" height="9.9" fill="#f8766d"/><rect x="1372" y="511.7" width="1" height="9.7" fill="#f8766d"/><rect x="1373" y="511.7" width="1" height="9.6" fill="#ce827c"/><rect x="1374" y="511.7" width="1" height="9.4" fill="#2ab3b5"/><rect x="1375" y="511.7" width="1" height="9.2" fill="#19c5c9"/><rect x="1376" y="511.7" width="1" height="9.1" fill="#00bfc4"/><rect x="1377" y="511.7" width="1" height="9.0" fill="#00bfc4"/><rect x="1378" y="511.7" width="1" height="8.9" fill="#00bfc4"/><rect x="1379" y="511.7" width="1" height="8.7" fill="#00bfc4"/><rect x="1380" y="511.7" width="1" height="8.6" fill="#19c5c9"/><rect x="1381" y="511.7" width="1" height="8.5" fill="#00bfc4"/><rect x="1382" y="511.7" width="1" height="8.3" fill="#00bfc4"/><rect x="1383" y="511.7" width="1" height="8.2" fill="#00bfc4"/><rect x="1384" y="511.7" width="1" height="8.1" fill="#00bfc4"/><rect x="1385" y="511.7" width="1" height="7.9" fill="#19c5c9"/><rect x="1386" y="511.7" width="1" height="7.8" fill="#00bfc4"/><rect x="1387" y="511.7" width="1" height="7.7" fill="#00bfc4"/><rect x="1388" y="511.7" width="1" height="7.6" fill="#00bfc4"/><rect x="1389" y="511.7" width="1" height="7.5" fill="#2ab3b5"/><rect x="1390" y="511.7" width="1" height="7.3" fill="#d28e88"/><rect x="1391" y="511.7" width="1" height="7.2" fill="#f8766d"/><rect x="1392" y="511.7" width="1" height="7.1" fill="#f8766d"/><rect x="1393" y="511.7" width="1" height="7.0" fill="#f8766d"/><rect x="1394" y="511.7" width="1" height="6.9" fill="#ce827c"/><rect x="1395" y="511.7" width="1" height="6.7" fill="#64aeae"/><rect x="1396" y="511.7" width="1" height="6.6" fill="#ce827c"/><rect x="1397" y="511.7" width="1" height="6.5" fill="#ce827c"/><rect x="1398" y="511.7" width="1" height="6.3" fill="#54a6a6"/><rect x="1399" y="511.7" width="1" height="6.2" fill="#ce827c"/><rect x="1400" y="511.7" width="1" height="6.1" fill="#d28e88"/><rect x="1401" y="511.7" width="1" height="5.9" fill="#54a6a6"/><rect x="1402" y="511.7" width="1" height="5.8" fill="#a48f8b"/><rect x="1403" y="511.7" width="1" height="5.7" fill="#54a6a6"/><rect x="1404" y="511.7" width="1" height="5.6" fill="#ce827c"/><rect x="1405" y="511.7" width="1" height="5.5" fill="#f8837b"/><rect x="1406" y="511.7" width="1" height="5.3" fill="#f8766d"/><rect x="1407" y="511.7" width="1" height="5.2" fill="#f8766d"/><rect x="1408" y="511.7" width="1" height="5.1" fill="#f8766d"/><rect x="1409" y="511.7" width="1" height="5.0" fill="#f8766d"/><rect x="1410" y="511.7" width="1" height="4.8" fill="#f8837b"/><rect x="1411" y="511.7" width="1" height="4.7" fill="#f8766d"/><rect x="1412" y="511.7" width="1" height="4.6" fill="#f8766d"/><rect x="1413" y="511.7" width="1" height="4.4" fill="#f8766d"/><rect x="1414" y="511.7" width="1" height="4.3" fill="#f8766d"/><rect x="1415" y="511.7" width="1" height="4.1" fill="#f8837b"/><rect x="1416" y="511.7" width="1" height="3.9" fill="#f8766d"/><rect x="1417" y="511.7" width="1" height="3.8" fill="#f8766d"/><rect x="1418" y="511.7" width="1" height="3.6" fill="#ce827c"/><rect x="1419" y="511.7" width="1" height="3.5" fill="#54a6a6"/><rect x="1420" y="511.7" width="1" height="3.3" fill="#d28e88"/><rect x="1421" y="511.7" width="1" height="3.2" fill="#f8766d"/><rect x="1422" y="511.7" width="1" height="3.0" fill="#f8766d"/><rect x="1423" y="511.7" width="1" height="2.9" fill="#ce827c"/><rect x="1424" y="511.7" width="1" height="2.7" fill="#54a6a6"/><rect x="1425" y="511.7" width="1" height="2.6" fill="#d28e88"/><rect x="1426" y="511.7" width="1" height="2.4" fill="#f8766d"/><rect x="1427" y="511.7" width="1" height="2.2" fill="#ce827c"/><rect x="1428" y="511.7" width="1" height="2.1" fill="#54a6a6"/><rect x="1429" y="511.7" width="1" height="2.0" fill="#ce827c"/><rect x="1430" y="511.7" width="1" height="1.8" fill="#f8837b"/><rect x="1431" y="511.7" width="1" height="1.6" fill="#ce827c"/><rect x="1432" y="511.7" width="1" height="1.5" fill="#2ab3b5"/><rect x="1433" y="511.7" width="1" height="1.3" fill="#00bfc4"/><rect x="1434" y="511.7" width="1" height="1.2" fill="#00bfc4"/><rect x="1435" y="511.7" width="1" height="1.0" fill="#19c5c9"/><rect x="1436" y="511.7" width="1" height="0.8" fill="#2ab3b5"/><rect x="1437" y="511.7" width="1" height="0.7" fill="#ce827c"/><rect x="1438" y="511.7" width="1" height="0.5" fill="#f8766d"/><rect x="1439" y="511.7" width="1" height="0.4" fill="#ce827c"/><rect x="1440" y="511.7" width="1" height="0.3" fill="#64aeae"/><rect x="1441" y="511.7" width="1" height="0.2" fill="#a48f8b"/><rect x="1445" y="511.4" width="1" height="0.2" fill="#d28e88"/><rect x="1446" y="511.3" width="1" height="0.4" fill="#2ab3b5"/><rect x="1447" y="511.2" width="1" height="0.5" fill="#2ab3b5"/><rect x="1448" y="511.1" width="1" height="0.6" fill="#a48f8b"/><rect x="1449" y="510.9" width="1" height="0.8" fill="#54a6a6"/><rect x="1450" y="510.8" width="1" height="0.9" fill="#d28e88"/><rect x="1451" y="510.7" width="1" height="1.0" fill="#f8766d"/><rect x="1452" y="510.6" width="1" height="1.1" fill="#f8766d"/><rect x="1453" y="510.4" width="1" height="1.2" fill="#ce827c"/><rect x="1454" y="510.3" width="1" height="1.4" fill="#54a6a6"/><rect x="1455" y="510.2" width="1" height="1.5" fill="#d28e88"/><rect x="1456" y="510.1" width="1" height="1.6" fill="#f8766d"/><rect x="1457" y="509.9" width="1" height="1.8" fill="#ce827c"/><rect x="1458" y="509.8" width="1" height="1.9" fill="#54a6a6"/><rect x="1459" y="509.7" width="1" height="2.0" fill="#a48f8b"/><rect x="1460" y="509.6" width="1" height="2.1" fill="#3fbabc"/><rect x="1461" y="509.4" width="1" height="2.3" fill="#00bfc4"/><rect x="1462" y="509.3" width="1" height="2.4" fill="#00bfc4"/><rect x="1463" y="509.1" width="1" height="2.6" fill="#2ab3b5"/><rect x="1464" y="509.0" width="1" height="2.7" fill="#ce827c"/><rect x="1465" y="508.9" width="1" height="2.8" fill="#f8837b"/><rect x="1466" y="508.8" width="1" height="2.9" fill="#f8766d"/><rect x="1467" y="508.6" width="1" height="3.1" fill="#f8766d"/><rect x="1468" y="508.5" width="1" height="3.2" fill="#ce827c"/><rect x="1469" y="508.4" width="1" height="3.3" fill="#2ab3b5"/><rect x="1470" y="508.2" width="1" height="3.5" fill="#3fbabc"/><rect x="1471" y="508.1" width="1" height="3.6" fill="#a48f8b"/><rect x="1472" y="507.9" width="1" height="3.8" fill="#2ab3b5"/><rect x="1473" y="507.8" width="1" height="3.9" fill="#2ab3b5"/><rect x="1474" y="507.7" width="1" height="4.0" fill="#ce827c"/><rect x="1475" y="507.6" width="1" height="4.1" fill="#d28e88"/><rect x="1476" y="507.4" width="1" height="4.3" fill="#2ab3b5"/><rect x="1477" y="507.3" width="1" height="4.4" fill="#2ab3b5"/><rect x="1478" y="507.1" width="1" height="4.6" fill="#ce827c"/><rect x="1479" y="506.9" width="1" height="4.8" fill="#f8766d"/><rect x="1480" y="506.7" width="1" height="5.0" fill="#d28e88"/><rect x="1481" y="506.5" width="1" height="5.2" fill="#54a6a6"/><rect x="1482" y="506.2" width="1" height="5.5" fill="#a48f8b"/><rect x="1483" y="506.0" width="1" height="5.7" fill="#2ab3b5"/><rect x="1484" y="505.8" width="1" height="5.9" fill="#00bfc4"/><rect x="1485" y="505.6" width="1" height="6.1" fill="#3fbabc"/><rect x="1486" y="505.3" width="1" height="6.4" fill="#ce827c"/><rect x="1487" y="505.0" width="1" height="6.7" fill="#ce827c"/><rect x="1488" y="504.8" width="1" height="6.9" fill="#54a6a6"/><rect x="1489" y="504.6" width="1" height="7.1" fill="#a48f8b"/><rect x="1490" y="504.4" width="1" height="7.3" fill="#3fbabc"/><rect x="1491" y="504.1" width="1" height="7.6" fill="#00bfc4"/><rect x="1492" y="503.9" width="1" height="7.8" fill="#00bfc4"/><rect x="1493" y="503.6" width="1" height="8.1" fill="#00bfc4"/><rect x="1494" y="503.4" width="1" height="8.3" fill="#00bfc4"/><rect x="1495" y="503.2" width="1" height="8.5" fill="#3fbabc"/><rect x="1496" y="503.0" width="1" height="8.7" fill="#a48f8b"/><rect x="1497" y="502.7" width="1" height="9.0" fill="#54a6a6"/><rect x="1498" y="502.5" width="1" height="9.2" fill="#a48f8b"/><rect x="1499" y="502.3" width="1" height="9.4" fill="#54a6a6"/><rect x="1500" y="502.1" width="1" height="9.6" fill="#ac9996"/><rect x="1501" y="501.9" width="1" height="9.8" fill="#2ab3b5"/><rect x="1502" y="501.6" width="1" height="10.1" fill="#2ab3b5"/><rect x="1503" y="501.4" width="1" height="10.3" fill="#a48f8b"/><rect x="1504" y="501.2" width="1" height="10.5" fill="#2ab3b5"/><rect x="1505" y="501.0" width="1" height="10.7" fill="#19c5c9"/><rect x="1506" y="500.8" width="1" height="10.9" fill="#2ab3b5"/><rect x="1507" y="500.6" width="1" height="11.1" fill="#ce827c"/><rect x="1508" y="500.3" width="1" height="11.4" fill="#ce827c"/><rect x="1509" y="500.1" width="1" height="11.6" fill="#54a6a6"/><rect x="1510" y="500.0" width="1" height="11.7" fill="#ac9996"/><rect x="1511" y="499.8" width="1" height="11.9" fill="#2ab3b5"/><rect x="1512" y="499.5" width="1" height="12.2" fill="#2ab3b5"/><rect x="1513" y="499.3" width="1" height="12.4" fill="#a48f8b"/><rect x="1514" y="499.1" width="1" height="12.6" fill="#54a6a6"/><rect x="1515" y="498.9" width="1" height="12.8" fill="#ac9996"/><rect x="1516" y="498.7" width="1" height="13.0" fill="#54a6a6"/><rect x="1517" y="498.5" width="1" height="13.2" fill="#ce827c"/><rect x="1518" y="498.2" width="1" height="13.5" fill="#ce827c"/><rect x="1519" y="498.1" width="1" height="13.6" fill="#2ab3b5"/><rect x="1520" y="497.9" width="1" height="13.8" fill="#19c5c9"/><rect x="1521" y="497.7" width="1" height="14.0" fill="#00bfc4"/><rect x="1522" y="497.4" width="1" height="14.3" fill="#00bfc4"/><rect x="1523" y="497.2" width="1" height="14.5" fill="#00bfc4"/><rect x="1524" y="497.0" width="1" height="14.7" fill="#2ab3b5"/><rect x="1525" y="496.8" width="1" height="14.9" fill="#ac9996"/><rect x="1526" y="496.6" width="1" height="15.1" fill="#2ab3b5"/><rect x="1527" y="496.4" width="1" height="15.3" fill="#2ab3b5"/><rect x="1528" y="496.2" width="1" height="15.5" fill="#a48f8b"/><rect x="1529" y="496.0" width="1" height="15.7" fill="#54a6a6"/><rect x="1530" y="495.8" width="1" height="15.9" fill="#d28e88"/><rect x="1531" y="495.6" width="1" height="16.1" fill="#ce827c"/><rect x="1532" y="495.3" width="1" height="16.4" fill="#2ab3b5"/><rect x="1533" y="495.1" width="1" height="16.6" fill="#00bfc4"/><rect x="1534" y="494.9" width="1" height="16.8" fill="#2ab3b5"/><rect x="1535" y="494.7" width="1" height="17.0" fill="#ac9996"/><rect x="1536" y="494.5" width="1" height="17.2" fill="#2ab3b5"/><rect x="1537" y="494.3" width="1" height="17.4" fill="#00bfc4"/><rect x="1538" y="494.0" width="1" height="17.7" fill="#2ab3b5"/><rect x="1539" y="493.8" width="1" height="17.9" fill="#a48f8b"/><rect x="1540" y="493.6" width="1" height="18.1" fill="#3fbabc"/><rect x="1541" y="493.4" width="1" height="18.3" fill="#00bfc4"/><rect x="1542" y="493.2" width="1" height="18.5" fill="#2ab3b5"/><rect x="1543" y="493.0" width="1" height="18.7" fill="#a48f8b"/><rect x="1544" y="492.8" width="1" height="18.9" fill="#2ab3b5"/><rect x="1545" y="492.6" width="1" height="19.1" fill="#19c5c9"/><rect x="1546" y="492.4" width="1" height="19.3" fill="#00bfc4"/><rect x="1547" y="492.1" width="1" height="19.6" fill="#00bfc4"/><rect x="1548" y="491.9" width="1" height="19.8" fill="#2ab3b5"/><rect x="1549" y="491.7" width="1" height="20.0" fill="#ce827c"/><rect x="1550" y="491.5" width="1" height="20.2" fill="#f8837b"/><rect x="1551" y="491.3" width="1" height="20.4" fill="#f8766d"/><rect x="1552" y="491.1" width="1" height="20.6" fill="#ce827c"/><rect x="1553" y="490.9" width="1" height="20.8" fill="#2ab3b5"/><rect x="1554" y="490.6" width="1" height="21.1" fill="#00bfc4"/><rect x="1555" y="490.4" width="1" height="21.3" fill="#19c5c9"/><rect x="1556" y="490.2" width="1" height="21.5" fill="#00bfc4"/><rect x="1557" y="490.0" width="1" height="21.7" fill="#00bfc4"/><rect x="1558" y="489.7" width="1" height="22.0" fill="#2ab3b5"/><rect x="1559" y="489.3" width="1" height="22.4" fill="#ce827c"/><rect x="1560" y="489.0" width="1" height="22.7" fill="#f8837b"/><rect x="1561" y="488.6" width="1" height="23.1" fill="#f8766d"/><rect x="1562" y="488.3" width="1" height="23.4" fill="#ce827c"/><rect x="1563" y="487.8" width="1" height="23.9" fill="#54a6a6"/><rect x="1564" y="487.4" width="1" height="24.3" fill="#ce827c"/><rect x="1565" y="487.1" width="1" height="24.6" fill="#f8837b"/><rect x="1566" y="486.7" width="1" height="25.0" fill="#ce827c"/><rect x="1567" y="486.4" width="1" height="25.3" fill="#2ab3b5"/><rect x="1568" y="486.0" width="1" height="25.7" fill="#00bfc4"/><rect x="1569" y="485.5" width="1" height="26.2" fill="#2ab3b5"/><rect x="1570" y="485.2" width="1" height="26.5" fill="#ac9996"/><rect x="1571" y="484.8" width="1" height="26.9" fill="#2ab3b5"/><rect x="1572" y="484.5" width="1" height="27.2" fill="#2ab3b5"/><rect x="1573" y="484.1" width="1" height="27.6" fill="#ce827c"/><rect x="1574" y="483.6" width="1" height="28.1" fill="#f8766d"/><rect x="1575" y="483.3" width="1" height="28.4" fill="#f8837b"/><rect x="1576" y="482.9" width="1" height="28.8" fill="#ce827c"/><rect x="1577" y="482.5" width="1" height="29.2" fill="#54a6a6"/><rect x="1578" y="482.1" width="1" height="29.6" fill="#ce827c"/><rect x="1579" y="481.6" width="1" height="30.1" fill="#f8766d"/><rect x="1580" y="481.2" width="1" height="30.5" fill="#d28e88"/><rect x="1581" y="480.9" width="1" height="30.8" fill="#2ab3b5"/><rect x="1582" y="480.5" width="1" height="31.2" fill="#00bfc4"/><rect x="1583" y="480.0" width="1" height="31.7" fill="#00bfc4"/><rect x="1584" y="479.6" width="1" height="32.1" fill="#2ab3b5"/><rect x="1585" y="479.2" width="1" height="32.5" fill="#ac9996"/><rect x="1586" y="478.8" width="1" height="32.9" fill="#54a6a6"/><rect x="1587" y="478.5" width="1" height="33.2" fill="#a48f8b"/><rect x="1588" y="478.0" width="1" height="33.7" fill="#2ab3b5"/><rect x="1589" y="477.6" width="1" height="34.1" fill="#2ab3b5"/><rect x="1590" y="477.2" width="1" height="34.5" fill="#ac9996"/><rect x="1591" y="476.8" width="1" height="34.9" fill="#2ab3b5"/><rect x="1592" y="476.4" width="1" height="35.3" fill="#00bfc4"/><rect x="1593" y="476.0" width="1" height="35.7" fill="#00bfc4"/><rect x="1594" y="475.5" width="1" height="36.2" fill="#00bfc4"/><rect x="1595" y="475.2" width="1" height="36.5" fill="#3fbabc"/><rect x="1596" y="474.8" width="1" height="36.9" fill="#ce827c"/><rect x="1597" y="474.2" width="1" height="37.5" fill="#f8766d"/><rect x="1598" y="473.4" width="1" height="38.3" fill="#ce827c"/><rect x="1599" y="472.6" width="1" height="39.1" fill="#2ab3b5"/><rect x="1600" y="472.0" width="1" height="39.7" fill="#3fbabc"/><rect x="1601" y="471.3" width="1" height="40.4" fill="#ce827c"/><rect x="1602" y="470.7" width="1" height="41.0" fill="#ce827c"/><rect x="1603" y="469.9" width="1" height="41.8" fill="#54a6a6"/><rect x="1604" y="469.1" width="1" height="42.6" fill="#a48f8b"/><rect x="1605" y="468.5" width="1" height="43.2" fill="#64aeae"/><rect x="1606" y="467.8" width="1" height="43.9" fill="#a48f8b"/><rect x="1607" y="467.2" width="1" height="44.5" fill="#2ab3b5"/><rect x="1608" y="466.5" width="1" height="45.2" fill="#00bfc4"/><rect x="1609" y="465.7" width="1" height="46.0" fill="#2ab3b5"/><rect x="1610" y="464.9" width="1" height="46.8" fill="#ac9996"/><rect x="1611" y="464.3" width="1" height="47.4" fill="#2ab3b5"/><rect x="1612" y="463.7" width="1" height="48.0" fill="#2ab3b5"/><rect x="1613" y="463.0" width="1" height="48.7" fill="#ce827c"/><rect x="1614" y="462.2" width="1" height="49.5" fill="#ce827c"/><rect x="1615" y="461.3" width="1" height="50.4" fill="#3fbabc"/><rect x="1616" y="460.4" width="1" height="51.3" fill="#2ab3b5"/><rect x="1617" y="459.6" width="1" height="52.1" fill="#ce827c"/><rect x="1618" y="458.7" width="1" height="53.0" fill="#ce827c"/><rect x="1619" y="457.6" width="1" height="54.1" fill="#2ab3b5"/><rect x="1620" y="456.6" width="1" height="55.1" fill="#19c5c9"/><rect x="1621" y="455.7" width="1" height="56.0" fill="#00bfc4"/><rect x="1622" y="454.9" width="1" height="56.8" fill="#2ab3b5"/><rect x="1623" y="454.0" width="1" height="57.7" fill="#a48f8b"/><rect x="1624" y="452.9" width="1" height="58.8" fill="#54a6a6"/><rect x="1625" y="451.9" width="1" height="59.8" fill="#ac9996"/><rect x="1626" y="451.0" width="1" height="60.7" fill="#2ab3b5"/><rect x="1627" y="450.2" width="1" height="61.5" fill="#2ab3b5"/><rect x="1628" y="449.3" width="1" height="62.4" fill="#a48f8b"/><rect x="1629" y="448.4" width="1" height="63.3" fill="#2ab3b5"/><rect x="1630" y="447.6" width="1" height="64.1" fill="#19c5c9"/><rect x="1631" y="446.9" width="1" height="64.8" fill="#2ab3b5"/><rect x="1632" y="446.3" width="1" height="65.4" fill="#a48f8b"/><rect x="1633" y="445.6" width="1" height="66.1" fill="#2ab3b5"/><rect x="1634" y="444.8" width="1" height="66.9" fill="#00bfc4"/><rect x="1635" y="443.9" width="1" height="67.8" fill="#19c5c9"/><rect x="1636" y="443.3" width="1" height="68.4" fill="#00bfc4"/><rect x="1637" y="442.6" width="1" height="69.1" fill="#00bfc4"/><rect x="1638" y="441.9" width="1" height="69.8" fill="#00bfc4"/><rect x="1639" y="440.9" width="1" height="70.8" fill="#00bfc4"/><rect x="1640" y="439.3" width="1" height="72.4" fill="#19c5c9"/><rect x="1641" y="437.9" width="1" height="73.8" fill="#00bfc4"/><rect x="1642" y="436.5" width="1" height="75.2" fill="#00bfc4"/><rect x="1643" y="435.1" width="1" height="76.6" fill="#00bfc4"/><rect x="1644" y="433.3" width="1" height="78.4" fill="#2ab3b5"/><rect x="1645" y="431.5" width="1" height="80.2" fill="#ac9996"/><rect x="1646" y="430.1" width="1" height="81.6" fill="#2ab3b5"/><rect x="1647" y="428.6" width="1" height="83.1" fill="#00bfc4"/><rect x="1648" y="427.1" width="1" height="84.6" fill="#00bfc4"/><rect x="1649" y="425.1" width="1" height="86.6" fill="#00bfc4"/><rect x="1650" y="423.1" width="1" height="88.6" fill="#19c5c9"/><rect x="1651" y="421.5" width="1" height="90.2" fill="#00bfc4"/><rect x="1652" y="419.9" width="1" height="91.8" fill="#2ab3b5"/><rect x="1653" y="418.3" width="1" height="93.4" fill="#a48f8b"/><rect x="1654" y="416.2" width="1" height="95.5" fill="#54a6a6"/><rect x="1655" y="414.1" width="1" height="97.6" fill="#d28e88"/><rect x="1656" y="412.4" width="1" height="99.3" fill="#ce827c"/><rect x="1657" y="410.7" width="1" height="101.0" fill="#2ab3b5"/><rect x="1658" y="409.1" width="1" height="102.6" fill="#00bfc4"/><rect x="1659" y="406.9" width="1" height="104.8" fill="#00bfc4"/><rect x="1660" y="404.8" width="1" height="106.9" fill="#19c5c9"/><rect x="1661" y="402.9" width="1" height="108.8" fill="#00bfc4"/><rect x="1662" y="399.6" width="1" height="112.1" fill="#00bfc4"/><rect x="1663" y="395.6" width="1" height="116.1" fill="#00bfc4"/><rect x="1664" y="391.5" width="1" height="120.2" fill="#00bfc4"/><rect x="1665" y="386.4" width="1" height="125.3" fill="#19c5c9"/><rect x="1666" y="381.3" width="1" height="130.4" fill="#00bfc4"/><rect x="1667" y="376.8" width="1" height="134.9" fill="#00bfc4"/><rect x="1668" y="372.2" width="1" height="139.5" fill="#00bfc4"/><rect x="1669" y="367.5" width="1" height="144.2" fill="#00bfc4"/><rect x="1670" y="361.7" width="1" height="150.0" fill="#19c5c9"/><rect x="1671" y="355.8" width="1" height="155.9" fill="#00bfc4"/><rect x="1672" y="350.4" width="1" height="161.3" fill="#00bfc4"/><rect x="1673" y="344.6" width="1" height="167.1" fill="#00bfc4"/><rect x="1674" y="338.8" width="1" height="172.9" fill="#00bfc4"/><rect x="1675" y="331.6" width="1" height="180.1" fill="#19c5c9"/><rect x="1676" y="323.8" width="1" height="187.9" fill="#00bfc4"/><rect x="1677" y="316.7" width="1" height="195.0" fill="#00bfc4"/><rect x="1678" y="309.3" width="1" height="202.4" fill="#00bfc4"/><rect x="1679" y="301.6" width="1" height="210.0" fill="#00bfc4"/><rect x="1680" y="288.3" width="1" height="223.4" fill="#19c5c9"/><rect x="1681" y="273.5" width="1" height="238.2" fill="#00bfc4"/><rect x="1682" y="261.6" width="1" height="250.1" fill="#00bfc4"/><rect x="1683" y="249.1" width="1" height="262.6" fill="#00bfc4"/><rect x="1684" y="236.3" width="1" height="275.4" fill="#00bfc4"/><rect x="1685" y="219.1" width="1" height="292.6" fill="#19c5c9"/><rect x="1686" y="205.8" width="1" height="305.9" fill="#00bfc4"/><rect x="1686.64" y="80.0" width="0.9" height="431.7" fill="#00bfc4"/></g>
<clipPath id="cb"><rect x="1015.0" y="55.6" width="703.8" height="540.9"/></clipPath>
<g clip-path="url(#cb)">
<line x1="1013.4" y1="511.7" x2="1718.0" y2="511.7" stroke="#000" stroke-width="3.5" stroke-dasharray="11.4 10.02"/>
<line x1="1443.0" y1="40.5" x2="1443.0" y2="595.7" stroke="#000" stroke-width="3.3" stroke-dasharray="18 17.9"/>
</g>
<rect x="1015.40" y="56.00" width="703.00" height="540.10" fill="none" stroke="#000" stroke-width="2.8"/>
<text x="1003.6" y="518.3" class="bt" text-anchor="end">703.86</text>
<text x="1003.6" y="425.0" class="bt" text-anchor="end">1703.86</text>
<text x="1003.6" y="331.7" class="bt" text-anchor="end">2703.86</text>
<text x="1003.6" y="238.4" class="bt" text-anchor="end">3703.86</text>
<text x="1003.6" y="145.1" class="bt" text-anchor="end">4703.86</text>
<text x="1045.8" y="620.2" class="bt" text-anchor="middle">0</text>
<text x="1273.4" y="620.2" class="bt" text-anchor="middle">500</text>
<text x="1501.1" y="620.2" class="bt" text-anchor="middle">1000</text>
<text x="1073.0" y="580.6" class="bl">low risk</text>
<text x="1549.0" y="580.6" class="bl">high risk</text>
<text x="1242.3" y="495.6" class="bl">cutoff = 703.86</text>
<line x1="1018.2" y1="632" x2="1428.4" y2="632" stroke="#000" stroke-width="2"/>
<line x1="1450.3" y1="632" x2="1719.6" y2="632" stroke="#000" stroke-width="2"/>
<text x="1235.2" y="658" class="bl" text-anchor="middle">n=873</text>
<text x="1585.0" y="658" class="bl" text-anchor="middle">n=536</text>
<text x="1420.3" y="657.6" class="bs" text-anchor="middle">Subjects</text>
<text transform="translate(908.9,327.3) rotate(-90)" class="ax" style="font-size:35.5px" text-anchor="middle">SII</text>
<rect x="1755.3" y="307.9" width="33.4" height="32.9" fill="#f8766d"/>
<rect x="1755.3" y="344.2" width="33.4" height="33.5" fill="#00bfc4"/>
<text x="1801.3" y="330.7" class="lg">Good CC</text>
<text x="1801.8" y="367.2" class="lg">Poor CC</text></g>
<g><line x1="190.0" y1="829.3" x2="190.0" y2="1351.5" class="gv"/>
<line x1="190.0" y1="1338.0" x2="696.9" y2="1338.0" class="gh"/>
<line x1="288.9" y1="829.3" x2="288.9" y2="1351.5" class="gv"/>
<line x1="190.0" y1="1239.1" x2="696.9" y2="1239.1" class="gh"/>
<line x1="387.9" y1="829.3" x2="387.9" y2="1351.5" class="gv"/>
<line x1="190.0" y1="1140.2" x2="696.9" y2="1140.2" class="gh"/>
<line x1="486.8" y1="829.3" x2="486.8" y2="1351.5" class="gv"/>
<line x1="190.0" y1="1041.2" x2="696.9" y2="1041.2" class="gh"/>
<line x1="585.8" y1="829.3" x2="585.8" y2="1351.5" class="gv"/>
<line x1="190.0" y1="942.3" x2="696.9" y2="942.3" class="gh"/>
<line x1="684.7" y1="829.3" x2="684.7" y2="1351.5" class="gv"/>
<line x1="190.0" y1="843.4" x2="696.9" y2="843.4" class="gh"/>
<line x1="190.0" y1="1338.0" x2="684.7" y2="843.4" class="dg"/>
<line x1="176.2" y1="1338.0" x2="190.2" y2="1338.0" class="tk"/>
<line x1="190.0" y1="1351.5" x2="190.0" y2="1337.5" class="tk"/>
<line x1="176.2" y1="1313.3" x2="183.2" y2="1313.3" class="tk"/>
<line x1="214.7" y1="1351.5" x2="214.7" y2="1344.5" class="tk"/>
<line x1="176.2" y1="1288.5" x2="183.2" y2="1288.5" class="tk"/>
<line x1="239.5" y1="1351.5" x2="239.5" y2="1344.5" class="tk"/>
<line x1="176.2" y1="1263.8" x2="183.2" y2="1263.8" class="tk"/>
<line x1="264.2" y1="1351.5" x2="264.2" y2="1344.5" class="tk"/>
<line x1="176.2" y1="1239.1" x2="190.2" y2="1239.1" class="tk"/>
<line x1="288.9" y1="1351.5" x2="288.9" y2="1337.5" class="tk"/>
<line x1="176.2" y1="1214.3" x2="183.2" y2="1214.3" class="tk"/>
<line x1="313.7" y1="1351.5" x2="313.7" y2="1344.5" class="tk"/>
<line x1="176.2" y1="1189.6" x2="183.2" y2="1189.6" class="tk"/>
<line x1="338.4" y1="1351.5" x2="338.4" y2="1344.5" class="tk"/>
<line x1="176.2" y1="1164.9" x2="183.2" y2="1164.9" class="tk"/>
<line x1="363.1" y1="1351.5" x2="363.1" y2="1344.5" class="tk"/>
<line x1="176.2" y1="1140.2" x2="190.2" y2="1140.2" class="tk"/>
<line x1="387.9" y1="1351.5" x2="387.9" y2="1337.5" class="tk"/>
<line x1="176.2" y1="1115.4" x2="183.2" y2="1115.4" class="tk"/>
<line x1="412.6" y1="1351.5" x2="412.6" y2="1344.5" class="tk"/>
<line x1="176.2" y1="1090.7" x2="183.2" y2="1090.7" class="tk"/>
<line x1="437.4" y1="1351.5" x2="437.4" y2="1344.5" class="tk"/>
<line x1="176.2" y1="1066.0" x2="183.2" y2="1066.0" class="tk"/>
<line x1="462.1" y1="1351.5" x2="462.1" y2="1344.5" class="tk"/>
<line x1="176.2" y1="1041.2" x2="190.2" y2="1041.2" class="tk"/>
<line x1="486.8" y1="1351.5" x2="486.8" y2="1337.5" class="tk"/>
<line x1="176.2" y1="1016.5" x2="183.2" y2="1016.5" class="tk"/>
<line x1="511.6" y1="1351.5" x2="511.6" y2="1344.5" class="tk"/>
<line x1="176.2" y1="991.8" x2="183.2" y2="991.8" class="tk"/>
<line x1="536.3" y1="1351.5" x2="536.3" y2="1344.5" class="tk"/>
<line x1="176.2" y1="967.0" x2="183.2" y2="967.0" class="tk"/>
<line x1="561.0" y1="1351.5" x2="561.0" y2="1344.5" class="tk"/>
<line x1="176.2" y1="942.3" x2="190.2" y2="942.3" class="tk"/>
<line x1="585.8" y1="1351.5" x2="585.8" y2="1337.5" class="tk"/>
<line x1="176.2" y1="917.6" x2="183.2" y2="917.6" class="tk"/>
<line x1="610.5" y1="1351.5" x2="610.5" y2="1344.5" class="tk"/>
<line x1="176.2" y1="892.9" x2="183.2" y2="892.9" class="tk"/>
<line x1="635.2" y1="1351.5" x2="635.2" y2="1344.5" class="tk"/>
<line x1="176.2" y1="868.1" x2="183.2" y2="868.1" class="tk"/>
<line x1="660.0" y1="1351.5" x2="660.0" y2="1344.5" class="tk"/>
<line x1="176.2" y1="843.4" x2="190.2" y2="843.4" class="tk"/>
<line x1="684.7" y1="1351.5" x2="684.7" y2="1337.5" class="tk"/>
<polyline points="189.4,1337.5 189.7,1337.5 189.7,1331.5 190.0,1331.5 191.3,1331.5 191.3,1325.2 192.7,1325.2 194.9,1325.2 194.9,1324.7 197.2,1324.7 198.6,1324.7 198.6,1319.8 199.9,1319.8 201.2,1319.8 201.2,1318.9 202.6,1318.9 203.8,1318.9 203.8,1312.2 205.0,1312.2 207.9,1312.2 207.9,1311.6 210.8,1311.6 211.9,1311.6 211.9,1306.2 212.9,1306.2 213.8,1306.2 213.8,1299.9 214.7,1299.9 215.9,1299.9 215.9,1294.5 217.1,1294.5 217.8,1294.5 217.8,1286.3 218.4,1286.3 219.6,1286.3 219.6,1279.1 220.7,1279.1 222.1,1279.1 222.1,1274.6 223.4,1274.6 224.8,1274.6 224.8,1270.6 226.1,1270.6 227.9,1270.6 227.9,1269.5 229.8,1269.5 230.7,1269.5 230.7,1261.0 231.6,1261.0 232.1,1261.0 232.1,1254.6 232.5,1254.6 233.8,1254.6 233.8,1248.3 235.2,1248.3 236.1,1248.3 236.1,1246.0 237.9,1246.0 237.9,1243.8 238.8,1243.8 240.2,1243.8 240.2,1239.3 241.5,1239.3 242.8,1239.3 242.8,1238.0 244.2,1238.0 245.4,1238.0 245.4,1227.5 246.6,1227.5 248.1,1227.5 248.1,1223.0 249.7,1223.0 250.8,1223.0 250.8,1217.6 252.0,1217.6 253.6,1217.6 253.6,1213.0 255.1,1213.0 256.2,1213.0 256.2,1205.8 257.4,1205.8 258.5,1205.8 258.5,1201.3 259.6,1201.3 260.1,1201.3 260.1,1193.1 260.5,1193.1 262.3,1193.1 262.3,1191.0 264.1,1191.0 266.2,1191.0 266.2,1189.2 268.3,1189.2 269.0,1189.2 269.0,1183.2 269.6,1183.2 270.8,1183.2 270.8,1177.8 271.9,1177.8 272.5,1177.8 272.5,1169.6 273.2,1169.6 274.5,1169.6 274.5,1166.9 275.9,1166.9 277.2,1166.9 277.2,1158.8 278.6,1158.8 279.5,1158.8 279.5,1156.0 281.3,1156.0 281.3,1153.3 282.2,1153.3 283.5,1153.3 283.5,1147.9 284.9,1147.9 286.3,1147.9 286.3,1144.3 287.7,1144.3 287.9,1144.3 287.9,1134.3 288.2,1134.3 289.3,1134.3 289.3,1131.3 290.4,1131.3 292.0,1131.3 292.0,1129.4 293.6,1129.4 294.7,1129.4 294.7,1121.7 295.8,1121.7 297.1,1121.7 297.1,1117.1 298.5,1117.1 299.7,1117.1 299.7,1108.1 300.9,1108.1 302.4,1108.1 302.4,1104.5 303.9,1104.5 305.3,1104.5 305.3,1097.2 306.7,1097.2 307.6,1097.2 307.6,1090.0 308.5,1090.0 308.5,1090.0 308.5,1084.6 308.5,1084.6 310.1,1084.6 310.1,1077.3 311.7,1077.3 312.6,1077.3 312.6,1073.7 313.5,1073.7 314.4,1073.7 314.4,1070.6 316.2,1070.6 316.2,1067.4 317.1,1067.4 317.4,1067.4 317.4,1059.2 317.6,1059.2 318.6,1059.2 318.6,1055.2 320.6,1055.2 320.6,1051.1 321.6,1051.1 322.5,1051.1 322.5,1048.7 324.3,1048.7 324.3,1046.2 325.2,1046.2 326.9,1046.2 326.9,1043.3 328.5,1043.3 330.9,1043.3 330.9,1042.9 333.4,1042.9 334.9,1042.9 334.9,1039.7 336.5,1039.7 338.6,1039.7 338.6,1039.3 340.6,1039.3 341.5,1039.3 341.5,1037.1 342.4,1037.1 343.6,1037.1 343.6,1036.6 344.8,1036.6 346.1,1036.6 346.1,1027.6 347.3,1027.6 349.9,1027.6 349.9,1026.3 352.4,1026.3 353.3,1026.3 353.3,1023.3 355.1,1023.3 355.1,1020.3 356.0,1020.3 357.8,1020.3 357.8,1017.6 359.6,1017.6 361.6,1017.6 361.6,1016.2 363.6,1016.2 365.2,1016.2 365.2,1010.4 366.8,1010.4 369.6,1010.4 369.6,1008.9 372.3,1008.9 374.6,1008.9 374.6,1008.0 376.8,1008.0 379.1,1008.0 379.1,1007.8 381.3,1007.8 383.6,1007.8 383.6,1005.3 385.8,1005.3 387.2,1005.3 387.2,999.5 388.6,999.5 390.9,999.5 390.9,997.3 393.1,997.3 393.7,997.3 393.7,994.1 394.3,994.1 396.5,994.1 396.5,991.9 400.8,991.9 400.8,989.6 403.0,989.6 404.6,989.6 404.6,986.9 407.8,986.9 407.8,984.1 409.4,984.1 411.9,984.1 411.9,981.4 416.8,981.4 416.8,978.7 419.3,978.7 420.2,978.7 420.2,976.5 422.0,976.5 422.0,974.2 422.9,974.2 424.8,974.2 424.8,971.5 426.6,971.5 427.7,971.5 427.7,968.8 430.0,968.8 430.0,966.0 431.1,966.0 434.7,966.0 434.7,963.7 438.3,963.7 439.0,963.7 439.0,959.7 439.6,959.7 442.1,959.7 442.1,957.5 444.6,957.5 445.6,957.5 445.6,954.3 446.5,954.3 450.6,954.3 450.6,951.2 454.6,951.2 456.2,951.2 456.2,949.5 459.3,949.5 459.3,947.9 460.9,947.9 463.4,947.9 463.4,945.6 468.4,945.6 468.4,943.4 470.9,943.4 472.2,943.4 472.2,940.2 474.9,940.2 474.9,937.1 476.3,937.1 478.6,937.1 478.6,934.4 480.8,934.4 483.6,934.4 483.6,932.6 486.3,932.6 488.6,932.6 488.6,932.2 490.8,932.2 491.9,932.2 491.9,929.7 494.2,929.7 494.2,927.1 495.3,927.1 496.6,927.1 496.6,924.9 499.4,924.9 499.4,922.6 500.7,922.6 503.4,922.6 503.4,920.8 506.2,920.8 507.3,920.8 507.3,917.5 509.6,917.5 509.6,914.1 510.7,914.1 512.3,914.1 512.3,912.3 515.4,912.3 515.4,910.5 517.0,910.5 517.9,910.5 517.9,907.5 519.7,907.5 519.7,904.5 520.6,904.5 526.5,904.5 526.5,904.5 532.4,904.5 534.3,904.5 534.3,902.7 538.1,902.7 538.1,900.9 540.0,900.9 540.0,900.9 540.0,899.2 540.0,899.2 543.6,899.2 543.6,898.2 547.3,898.2 548.0,898.2 548.0,894.2 548.6,894.2 549.5,894.2 549.5,892.2 551.3,892.2 551.3,890.2 552.2,890.2 554.0,890.2 554.0,888.4 557.7,888.4 557.7,886.6 559.5,886.6 560.6,886.6 560.6,885.0 562.9,885.0 562.9,883.3 564.0,883.3 565.0,883.3 565.0,881.0 567.1,881.0 567.1,878.8 569.2,878.8 569.2,876.5 570.3,876.5 573.5,876.5 573.5,873.4 576.7,873.4 579.4,873.4 579.4,871.0 582.1,871.0 584.8,871.0 584.8,870.1 587.5,870.1 589.8,870.1 589.8,868.5 592.0,868.5 597.0,868.5 597.0,867.0 602.0,867.0 603.6,867.0 603.6,865.0 606.7,865.0 606.7,863.1 608.3,863.1 609.6,863.1 609.6,860.7 611.0,860.7 611.9,860.7 611.9,855.3 612.8,855.3 617.3,855.3 617.3,854.0 621.9,854.0 624.1,854.0 624.1,852.2 626.4,852.2 629.5,852.2 629.5,851.8 632.7,851.8 634.5,851.8 634.5,849.3 636.4,849.3 638.2,849.3 638.2,848.0 640.0,848.0 641.1,848.0 641.1,846.2 643.4,846.2 643.4,844.4 644.5,844.4 650.9,844.4 650.9,844.4 657.2,844.4 658.1,844.4 658.1,843.0 659.0,843.0 671.6,843.0 671.6,843.0 684.3,843.0" fill="none" stroke="#c4659d" stroke-width="3.3" stroke-linejoin="miter" stroke-linecap="butt"/>
<rect x="174.55" y="827.65" width="525.50" height="525.50" fill="none" stroke="#000" stroke-width="3.3"/>
<text x="164.9" y="1344.6" class="tl" text-anchor="end">0</text>
<text x="188.8" y="1380.1" class="tl" text-anchor="middle">0</text>
<text x="164.9" y="1245.7" class="tl" text-anchor="end">20</text>
<text x="287.7" y="1380.1" class="tl" text-anchor="middle">20</text>
<text x="164.9" y="1146.8" class="tl" text-anchor="end">40</text>
<text x="386.7" y="1380.1" class="tl" text-anchor="middle">40</text>
<text x="164.9" y="1047.8" class="tl" text-anchor="end">60</text>
<text x="485.6" y="1380.1" class="tl" text-anchor="middle">60</text>
<text x="164.9" y="948.9" class="tl" text-anchor="end">80</text>
<text x="584.6" y="1380.1" class="tl" text-anchor="middle">80</text>
<text x="164.9" y="850.0" class="tl" text-anchor="end">100</text>
<text x="683.5" y="1380.1" class="tl" text-anchor="middle">100</text>
<text x="367.6" y="1264.6" class="an">SIRI AUC=0.680(0.655-0.704)</text>
<text x="367.6" y="1291.4" class="an">P&lt;0.001</text>
<text x="437.0" y="1421.0" class="ax" text-anchor="middle">100-Specificity</text>
<text transform="translate(116.0,1093.0) rotate(-90)" class="ax" text-anchor="middle">Sensitivity</text></g>
<g><line x1="1061.0" y1="829.3" x2="1061.0" y2="1351.5" class="gv"/>
<line x1="1061.0" y1="1338.0" x2="1567.9" y2="1338.0" class="gh"/>
<line x1="1159.9" y1="829.3" x2="1159.9" y2="1351.5" class="gv"/>
<line x1="1061.0" y1="1239.1" x2="1567.9" y2="1239.1" class="gh"/>
<line x1="1258.9" y1="829.3" x2="1258.9" y2="1351.5" class="gv"/>
<line x1="1061.0" y1="1140.2" x2="1567.9" y2="1140.2" class="gh"/>
<line x1="1357.8" y1="829.3" x2="1357.8" y2="1351.5" class="gv"/>
<line x1="1061.0" y1="1041.2" x2="1567.9" y2="1041.2" class="gh"/>
<line x1="1456.8" y1="829.3" x2="1456.8" y2="1351.5" class="gv"/>
<line x1="1061.0" y1="942.3" x2="1567.9" y2="942.3" class="gh"/>
<line x1="1555.7" y1="829.3" x2="1555.7" y2="1351.5" class="gv"/>
<line x1="1061.0" y1="843.4" x2="1567.9" y2="843.4" class="gh"/>
<line x1="1061.0" y1="1338.0" x2="1555.7" y2="843.4" class="dg"/>
<line x1="1047.2" y1="1338.0" x2="1061.2" y2="1338.0" class="tk"/>
<line x1="1061.0" y1="1351.5" x2="1061.0" y2="1337.5" class="tk"/>
<line x1="1047.2" y1="1313.3" x2="1054.2" y2="1313.3" class="tk"/>
<line x1="1085.7" y1="1351.5" x2="1085.7" y2="1344.5" class="tk"/>
<line x1="1047.2" y1="1288.5" x2="1054.2" y2="1288.5" class="tk"/>
<line x1="1110.5" y1="1351.5" x2="1110.5" y2="1344.5" class="tk"/>
<line x1="1047.2" y1="1263.8" x2="1054.2" y2="1263.8" class="tk"/>
<line x1="1135.2" y1="1351.5" x2="1135.2" y2="1344.5" class="tk"/>
<line x1="1047.2" y1="1239.1" x2="1061.2" y2="1239.1" class="tk"/>
<line x1="1159.9" y1="1351.5" x2="1159.9" y2="1337.5" class="tk"/>
<line x1="1047.2" y1="1214.3" x2="1054.2" y2="1214.3" class="tk"/>
<line x1="1184.7" y1="1351.5" x2="1184.7" y2="1344.5" class="tk"/>
<line x1="1047.2" y1="1189.6" x2="1054.2" y2="1189.6" class="tk"/>
<line x1="1209.4" y1="1351.5" x2="1209.4" y2="1344.5" class="tk"/>
<line x1="1047.2" y1="1164.9" x2="1054.2" y2="1164.9" class="tk"/>
<line x1="1234.1" y1="1351.5" x2="1234.1" y2="1344.5" class="tk"/>
<line x1="1047.2" y1="1140.2" x2="1061.2" y2="1140.2" class="tk"/>
<line x1="1258.9" y1="1351.5" x2="1258.9" y2="1337.5" class="tk"/>
<line x1="1047.2" y1="1115.4" x2="1054.2" y2="1115.4" class="tk"/>
<line x1="1283.6" y1="1351.5" x2="1283.6" y2="1344.5" class="tk"/>
<line x1="1047.2" y1="1090.7" x2="1054.2" y2="1090.7" class="tk"/>
<line x1="1308.3" y1="1351.5" x2="1308.3" y2="1344.5" class="tk"/>
<line x1="1047.2" y1="1066.0" x2="1054.2" y2="1066.0" class="tk"/>
<line x1="1333.1" y1="1351.5" x2="1333.1" y2="1344.5" class="tk"/>
<line x1="1047.2" y1="1041.2" x2="1061.2" y2="1041.2" class="tk"/>
<line x1="1357.8" y1="1351.5" x2="1357.8" y2="1337.5" class="tk"/>
<line x1="1047.2" y1="1016.5" x2="1054.2" y2="1016.5" class="tk"/>
<line x1="1382.6" y1="1351.5" x2="1382.6" y2="1344.5" class="tk"/>
<line x1="1047.2" y1="991.8" x2="1054.2" y2="991.8" class="tk"/>
<line x1="1407.3" y1="1351.5" x2="1407.3" y2="1344.5" class="tk"/>
<line x1="1047.2" y1="967.0" x2="1054.2" y2="967.0" class="tk"/>
<line x1="1432.0" y1="1351.5" x2="1432.0" y2="1344.5" class="tk"/>
<line x1="1047.2" y1="942.3" x2="1061.2" y2="942.3" class="tk"/>
<line x1="1456.8" y1="1351.5" x2="1456.8" y2="1337.5" class="tk"/>
<line x1="1047.2" y1="917.6" x2="1054.2" y2="917.6" class="tk"/>
<line x1="1481.5" y1="1351.5" x2="1481.5" y2="1344.5" class="tk"/>
<line x1="1047.2" y1="892.9" x2="1054.2" y2="892.9" class="tk"/>
<line x1="1506.2" y1="1351.5" x2="1506.2" y2="1344.5" class="tk"/>
<line x1="1047.2" y1="868.1" x2="1054.2" y2="868.1" class="tk"/>
<line x1="1531.0" y1="1351.5" x2="1531.0" y2="1344.5" class="tk"/>
<line x1="1047.2" y1="843.4" x2="1061.2" y2="843.4" class="tk"/>
<line x1="1555.7" y1="1351.5" x2="1555.7" y2="1337.5" class="tk"/>
<polyline points="1060.9,1337.5 1060.9,1337.5 1060.9,1323.4 1060.9,1323.4 1063.6,1323.4 1063.6,1323.0 1066.3,1323.0 1067.2,1323.0 1067.2,1315.3 1068.1,1315.3 1069.9,1315.3 1069.9,1312.5 1071.7,1312.5 1074.8,1312.5 1074.8,1311.1 1078.0,1311.1 1079.0,1311.1 1079.0,1308.0 1079.9,1308.0 1082.6,1308.0 1082.6,1306.8 1085.3,1306.8 1087.8,1306.8 1087.8,1304.4 1090.2,1304.4 1090.8,1304.4 1090.8,1299.9 1091.3,1299.9 1092.3,1299.9 1092.3,1296.3 1093.4,1296.3 1093.8,1296.3 1093.8,1286.3 1094.3,1286.3 1095.7,1286.3 1095.7,1281.8 1097.0,1281.8 1098.0,1281.8 1098.0,1270.9 1098.9,1270.9 1099.8,1270.9 1099.8,1266.4 1100.7,1266.4 1101.2,1266.4 1101.2,1260.1 1101.6,1260.1 1102.8,1260.1 1102.8,1254.3 1103.9,1254.3 1105.2,1254.3 1105.2,1253.7 1106.5,1253.7 1107.0,1253.7 1107.0,1243.8 1107.5,1243.8 1108.6,1243.8 1108.6,1240.2 1109.7,1240.2 1110.2,1240.2 1110.2,1232.9 1110.6,1232.9 1111.8,1232.9 1111.8,1225.7 1113.0,1225.7 1114.2,1225.7 1114.2,1223.9 1115.5,1223.9 1116.7,1223.9 1116.7,1217.6 1117.8,1217.6 1119.3,1217.6 1119.3,1213.9 1120.9,1213.9 1121.7,1213.9 1121.7,1204.0 1122.4,1204.0 1123.3,1204.0 1123.3,1201.3 1125.1,1201.3 1125.1,1198.6 1126.0,1198.6 1126.9,1198.6 1126.9,1196.8 1128.7,1196.8 1128.7,1194.9 1129.6,1194.9 1130.3,1194.9 1130.3,1189.5 1131.1,1189.5 1131.2,1189.5 1131.2,1176.8 1131.4,1176.8 1132.3,1176.8 1132.3,1173.2 1133.2,1173.2 1134.6,1173.2 1134.6,1169.2 1137.3,1169.2 1137.3,1165.1 1138.7,1165.1 1139.4,1165.1 1139.4,1156.0 1140.1,1156.0 1141.3,1156.0 1141.3,1152.8 1143.8,1152.8 1143.8,1149.7 1145.0,1149.7 1145.5,1149.7 1145.5,1143.4 1145.9,1143.4 1146.9,1143.4 1146.9,1141.6 1148.9,1141.6 1148.9,1139.8 1149.9,1139.8 1150.6,1139.8 1150.6,1132.5 1151.3,1132.5 1152.4,1132.5 1152.4,1124.4 1153.5,1124.4 1155.3,1124.4 1155.3,1121.7 1157.1,1121.7 1157.8,1121.7 1157.8,1114.4 1158.6,1114.4 1159.5,1114.4 1159.5,1112.6 1161.3,1112.6 1161.3,1110.8 1162.2,1110.8 1162.7,1110.8 1162.7,1106.3 1163.1,1106.3 1164.0,1106.3 1164.0,1103.6 1165.8,1103.6 1165.8,1100.9 1166.7,1100.9 1168.1,1100.9 1168.1,1093.6 1169.4,1093.6 1170.5,1093.6 1170.5,1090.0 1171.6,1090.0 1171.6,1090.0 1171.6,1085.5 1171.6,1085.5 1173.0,1085.5 1173.0,1082.7 1174.4,1082.7 1175.6,1082.7 1175.6,1073.7 1176.8,1073.7 1177.4,1073.7 1177.4,1068.3 1178.0,1068.3 1179.4,1068.3 1179.4,1065.6 1180.8,1065.6 1180.9,1065.6 1180.9,1060.1 1181.1,1060.1 1181.9,1060.1 1181.9,1057.7 1183.6,1057.7 1183.6,1055.2 1184.4,1055.2 1185.5,1055.2 1185.5,1053.4 1187.8,1053.4 1187.8,1051.6 1188.9,1051.6 1190.7,1051.6 1190.7,1049.3 1192.5,1049.3 1194.8,1049.3 1194.8,1048.4 1197.0,1048.4 1197.8,1048.4 1197.8,1041.1 1198.5,1041.1 1200.3,1041.1 1200.3,1039.0 1202.1,1039.0 1203.0,1039.0 1203.0,1032.1 1203.9,1032.1 1204.8,1032.1 1204.8,1026.7 1205.7,1026.7 1206.6,1026.7 1206.6,1019.4 1207.5,1019.4 1210.0,1019.4 1210.0,1017.6 1212.4,1017.6 1213.8,1017.6 1213.8,1016.7 1215.1,1016.7 1216.0,1016.7 1216.0,1010.0 1216.9,1010.0 1218.8,1010.0 1218.8,1008.6 1220.6,1008.6 1221.0,1008.6 1221.0,1000.4 1221.5,1000.4 1223.8,1000.4 1223.8,999.5 1226.0,999.5 1227.8,999.5 1227.8,998.6 1229.6,998.6 1230.0,998.6 1230.0,995.0 1230.5,995.0 1232.0,995.0 1232.0,993.2 1233.6,993.2 1234.3,993.2 1234.3,986.5 1235.0,986.5 1237.8,986.5 1237.8,984.7 1240.5,984.7 1241.8,984.7 1241.8,982.3 1243.2,982.3 1245.5,982.3 1245.5,981.1 1247.7,981.1 1249.5,981.1 1249.5,978.2 1251.3,978.2 1253.1,978.2 1253.1,976.0 1254.9,976.0 1257.2,976.0 1257.2,974.2 1259.5,974.2 1262.2,974.2 1262.2,973.3 1264.9,973.3 1265.8,973.3 1265.8,971.5 1267.6,971.5 1267.6,969.7 1268.5,969.7 1270.8,969.7 1270.8,967.8 1273.0,967.8 1273.9,967.8 1273.9,964.2 1274.8,964.2 1276.7,964.2 1276.7,963.3 1278.5,963.3 1279.4,963.3 1279.4,960.6 1280.3,960.6 1285.7,960.6 1285.7,960.3 1291.1,960.3 1292.4,960.3 1292.4,957.9 1293.8,957.9 1297.0,957.9 1297.0,956.5 1300.2,956.5 1302.9,956.5 1302.9,954.3 1305.6,954.3 1307.4,954.3 1307.4,952.5 1309.2,952.5 1313.8,952.5 1313.8,952.1 1318.3,952.1 1319.7,952.1 1319.7,947.4 1321.0,947.4 1326.0,947.4 1326.0,945.2 1330.9,945.2 1334.6,945.2 1334.6,942.5 1338.2,942.5 1339.8,942.5 1339.8,939.8 1342.9,939.8 1342.9,937.1 1344.5,937.1 1346.8,937.1 1346.8,935.3 1349.0,935.3 1350.1,935.3 1350.1,933.5 1352.4,933.5 1352.4,931.7 1353.5,931.7 1356.2,931.7 1356.2,929.3 1359.0,929.3 1359.9,929.3 1359.9,926.2 1360.8,926.2 1361.7,926.2 1361.7,924.0 1363.5,924.0 1363.5,921.7 1364.4,921.7 1367.1,921.7 1367.1,919.0 1369.8,919.0 1372.1,919.0 1372.1,917.2 1374.4,917.2 1375.8,917.2 1375.8,908.7 1377.1,908.7 1380.2,908.7 1380.2,906.9 1383.4,906.9 1384.3,906.9 1384.3,905.1 1385.2,905.1 1388.3,905.1 1388.3,903.6 1391.5,903.6 1394.2,903.6 1394.2,900.9 1397.0,900.9 1399.7,900.9 1399.7,900.0 1402.4,900.0 1402.4,900.0 1402.4,895.6 1402.4,895.6 1404.2,895.6 1404.2,894.7 1405.9,894.7 1408.2,894.7 1408.2,891.8 1410.5,891.8 1413.7,891.8 1413.7,889.7 1416.8,889.7 1417.7,889.7 1417.7,886.9 1418.6,886.9 1420.8,886.9 1420.8,886.0 1423.1,886.0 1424.0,886.0 1424.0,883.3 1424.9,883.3 1425.8,883.3 1425.8,881.3 1427.7,881.3 1427.7,879.3 1428.6,879.3 1432.2,879.3 1432.2,876.5 1435.8,876.5 1438.0,876.5 1438.0,873.7 1440.3,873.7 1443.5,873.7 1443.5,872.8 1446.7,872.8 1449.8,872.8 1449.8,871.0 1453.0,871.0 1453.9,871.0 1453.9,868.9 1454.8,868.9 1456.8,868.9 1456.8,866.6 1460.9,866.6 1460.9,864.3 1462.9,864.3 1464.8,864.3 1464.8,863.4 1466.6,863.4 1467.5,863.4 1467.5,861.4 1469.3,861.4 1469.3,859.4 1470.2,859.4 1472.9,859.4 1472.9,858.5 1475.6,858.5 1480.1,858.5 1480.1,858.0 1484.6,858.0 1485.5,858.0 1485.5,855.3 1486.5,855.3 1490.1,855.3 1490.1,854.4 1493.7,854.4 1497.3,854.4 1497.3,853.5 1500.9,853.5 1501.8,853.5 1501.8,851.4 1503.7,851.4 1503.7,849.3 1504.6,849.3 1506.4,849.3 1506.4,848.4 1508.2,848.4 1512.2,848.4 1512.2,848.0 1516.3,848.0 1517.7,848.0 1517.7,846.6 1519.0,846.6 1525.3,846.6 1525.3,846.2 1531.7,846.2 1534.4,846.2 1534.4,843.0 1537.1,843.0 1546.2,843.0 1546.2,843.0 1555.2,843.0" fill="none" stroke="#8b8bf2" stroke-width="3.3" stroke-linejoin="miter" stroke-linecap="butt"/>
<rect x="1045.55" y="827.65" width="525.50" height="525.50" fill="none" stroke="#000" stroke-width="3.3"/>
<text x="1035.9" y="1344.6" class="tl" text-anchor="end">0</text>
<text x="1059.8" y="1380.1" class="tl" text-anchor="middle">0</text>
<text x="1035.9" y="1245.7" class="tl" text-anchor="end">20</text>
<text x="1158.7" y="1380.1" class="tl" text-anchor="middle">20</text>
<text x="1035.9" y="1146.8" class="tl" text-anchor="end">40</text>
<text x="1257.7" y="1380.1" class="tl" text-anchor="middle">40</text>
<text x="1035.9" y="1047.8" class="tl" text-anchor="end">60</text>
<text x="1356.6" y="1380.1" class="tl" text-anchor="middle">60</text>
<text x="1035.9" y="948.9" class="tl" text-anchor="end">80</text>
<text x="1455.6" y="1380.1" class="tl" text-anchor="middle">80</text>
<text x="1035.9" y="850.0" class="tl" text-anchor="end">100</text>
<text x="1554.5" y="1380.1" class="tl" text-anchor="middle">100</text>
<text x="1237.6" y="1264.6" class="an">PIV AUC=0.698(0.673-0.722)</text>
<text x="1237.6" y="1291.4" class="an">P&lt;0.001</text>
<text x="1311.0" y="1423.4" class="ax" text-anchor="middle">100-Specificity</text>
<text transform="translate(985.0,1097.0) rotate(-90)" class="ax" text-anchor="middle">Sensitivity</text></g>
</svg></body></html>
